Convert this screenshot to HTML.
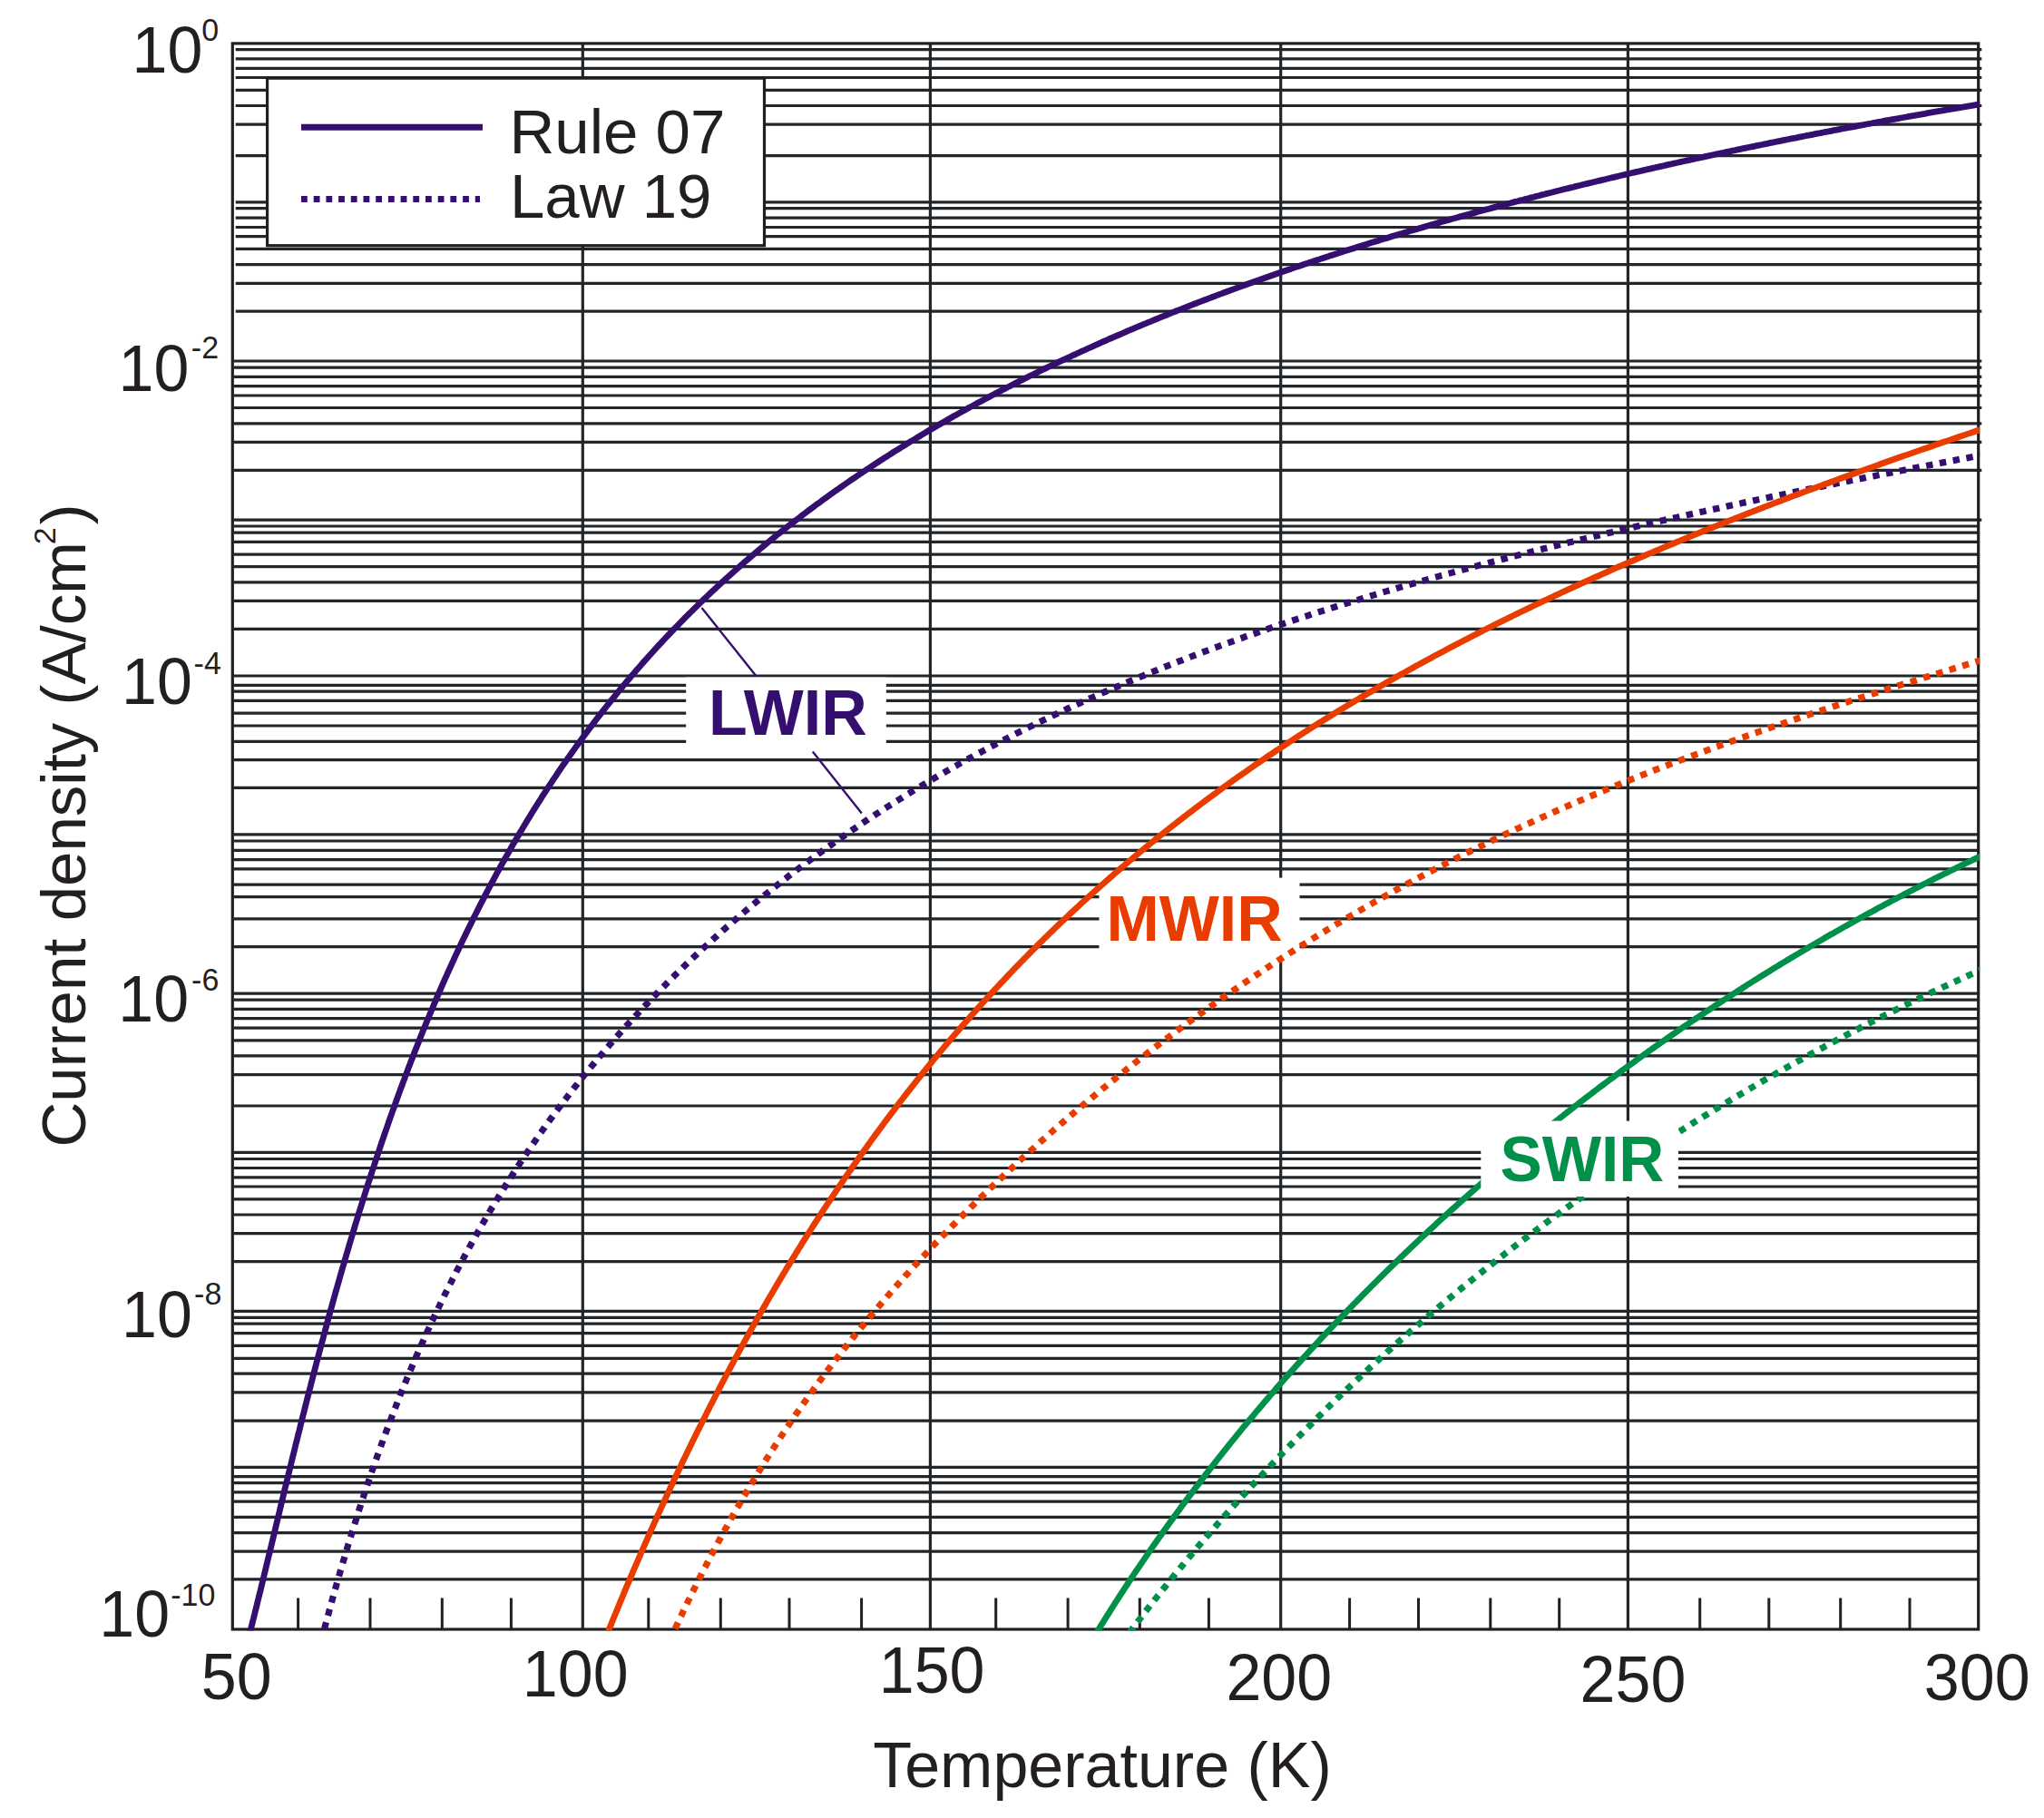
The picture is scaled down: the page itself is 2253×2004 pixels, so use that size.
<!DOCTYPE html>
<html><head><meta charset="utf-8"><title>Current density vs Temperature</title>
<style>html,body{margin:0;padding:0;background:#fff;}svg{display:block;}text{font-family:"Liberation Sans",Arial,sans-serif;}</style></head><body>
<svg width="2253" height="2004" viewBox="0 0 2253 2004">
<rect width="2253" height="2004" fill="#fff"/>
<defs><clipPath id="plot"><rect x="255.3" y="46.9" width="1926.9" height="1750.6"/></clipPath></defs>
<path d="M259.7 54.6H2184.3M259.7 64.9H2184.3M259.7 75.4H2184.3M259.7 85.5H2184.3M259.7 99.3H2184.3M259.7 116.5H2184.3M259.7 137.1H2184.3M259.7 171.6H2184.3M259.7 222.8H2184.3M259.7 229.6H2184.3M259.7 240.1H2184.3M259.7 250.5H2184.3M259.7 260.7H2184.3M259.7 274.4H2184.3M259.7 291.6H2184.3M259.7 312.4H2184.3M259.7 343.2H2184.3M257.6 398.0H2184.3M257.6 405.1H2184.3M257.6 415.3H2184.3M257.6 425.6H2184.3M257.6 436.0H2184.3M257.6 449.5H2184.3M257.6 466.8H2184.3M257.6 487.4H2184.3M257.6 518.4H2184.3M257.6 573.2H2184.3M257.6 580.0H2180.7M257.6 587.1H2180.7M257.6 597.3H2180.7M257.6 611.2H2180.7M257.6 624.7H2180.7M257.6 641.9H2180.7M257.6 662.3H2180.7M257.6 693.4H2180.7M257.6 745.0H2180.7M257.6 755.4H2180.7M257.6 762.2H2180.7M257.6 772.4H2180.7M257.6 786.1H2180.7M257.6 800.0H2180.7M257.6 817.3H2180.7M257.6 837.7H2180.7M257.6 868.4H2180.7M257.6 919.9H2180.7M257.6 927.0H2180.7M257.6 937.4H2180.7M257.6 947.6H2180.7M257.6 957.9H2180.7M257.6 975.2H2180.7M257.6 988.7H2180.7M257.6 1012.8H2180.7M257.6 1043.7H2180.7M257.6 1095.1H2180.7M257.6 1102.2H2180.7M257.6 1112.3H2180.7M257.6 1122.7H2180.7M257.6 1133.1H2180.7M257.6 1146.8H2180.7M257.6 1163.9H2180.7M257.6 1184.7H2180.7M257.6 1219.0H2180.7M257.6 1270.4H2180.7M257.6 1277.5H2180.7M257.6 1287.5H2180.7M257.6 1297.8H2180.7M257.6 1308.0H2180.7M257.6 1321.8H2180.7M257.6 1339.0H2180.7M257.6 1359.6H2180.7M257.6 1390.6H2180.7M257.6 1445.4H2180.7M257.6 1452.3H2180.7M257.6 1459.1H2180.7M257.6 1469.7H2180.7M257.6 1483.4H2180.7M257.6 1497.4H2180.7M257.6 1514.2H2180.7M257.6 1534.9H2180.7M257.6 1566.2H2180.7M257.6 1617.4H2180.7M257.6 1627.6H2180.7M257.6 1634.7H2180.7M257.6 1644.9H2180.7M257.6 1655.1H2180.7M257.6 1672.3H2180.7M257.6 1689.6H2180.7M257.6 1710.1H2180.7M257.6 1740.9H2180.7" stroke="#222629" stroke-width="3.2" fill="none"/>
<path d="M642.3 47.9V1795.9M1025.4 47.9V1795.9M1411.7 47.9V1795.9M1794.4 47.9V1795.9" stroke="#222629" stroke-width="3.2" fill="none"/>
<path d="M328.6 1761.5V1795.9M408.0 1761.5V1795.9M487.3 1761.5V1795.9M563.4 1761.5V1795.9M714.8 1761.5V1795.9M794.3 1761.5V1795.9M870.0 1761.5V1795.9M949.6 1761.5V1795.9M1097.7 1761.5V1795.9M1177.1 1761.5V1795.9M1256.3 1761.5V1795.9M1332.4 1761.5V1795.9M1487.6 1761.5V1795.9M1563.5 1761.5V1795.9M1642.8 1761.5V1795.9M1718.7 1761.5V1795.9M1873.7 1761.5V1795.9M1949.8 1761.5V1795.9M2028.7 1761.5V1795.9M2105.0 1761.5V1795.9" stroke="#231F20" stroke-width="3" fill="none"/>
<rect x="256.3" y="47.9" width="1924.4" height="1748.1" fill="none" stroke="#231F20" stroke-width="3.2"/>
<rect x="294.6" y="86.2" width="547.9" height="184.5" fill="#fff" stroke="#231F20" stroke-width="3.2"/>
<path d="M332 140.3H532" stroke="#350F70" stroke-width="7"/>
<path d="M332 219.6H529" stroke="#350F70" stroke-width="7" stroke-dasharray="6.8 6.9"/>
<rect x="756.2" y="746.6" width="220.6" height="81.6" fill="#fff"/>
<rect x="1211.5" y="967.6" width="221" height="86.8" fill="#fff"/>
<g clip-path="url(#plot)" fill="none" stroke-linejoin="round">
<path d="M262.6 1848.2 L263.4 1845.3 L264.2 1842.4 L265.0 1839.5 L265.8 1836.6 L266.6 1833.7 L267.4 1830.8 L268.1 1827.9 L268.9 1825.0 L269.7 1822.1 L270.4 1819.2 L271.2 1816.3 L272.0 1813.4 L272.7 1810.5 L273.5 1807.6 L274.2 1804.7 L274.9 1801.8 L275.7 1798.9 L276.4 1796.0 L277.2 1793.0 L277.9 1790.1 L278.6 1787.2 L279.4 1784.3 L280.1 1781.4 L280.8 1778.5 L281.5 1775.6 L282.3 1772.7 L283.0 1769.8 L283.7 1766.8 L284.4 1763.9 L285.1 1761.0 L285.8 1758.1 L286.6 1755.2 L287.3 1752.3 L288.0 1749.4 L288.7 1746.4 L289.4 1743.5 L290.1 1740.6 L290.8 1737.7 L291.5 1734.8 L292.2 1731.9 L292.9 1728.9 L293.6 1726.0 L294.3 1723.1 L295.0 1720.2 L295.7 1717.3 L296.4 1714.4 L297.2 1711.4 L297.9 1708.5 L298.6 1705.6 L299.3 1702.7 L300.0 1699.8 L300.7 1696.9 L301.4 1693.9 L302.1 1691.0 L302.8 1688.1 L303.5 1685.2 L304.2 1682.3 L304.9 1679.3 L305.6 1676.4 L306.3 1673.5 L307.0 1670.6 L307.7 1667.7 L308.4 1664.8 L309.1 1661.8 L309.8 1658.9 L310.5 1656.0 L311.2 1653.1 L311.9 1650.2 L312.6 1647.3 L313.3 1644.3 L314.0 1641.4 L314.7 1638.5 L315.4 1635.6 L316.1 1632.7 L316.9 1629.8 L317.6 1626.8 L318.3 1623.9 L319.0 1621.0 L319.7 1618.1 L320.4 1615.2 L321.1 1612.3 L321.8 1609.4 L322.5 1606.4 L323.3 1603.5 L324.0 1600.6 L324.7 1597.7 L325.4 1594.8 L326.1 1591.9 L326.9 1589.0 L327.6 1586.0 L328.3 1583.1 L329.0 1580.2 L329.8 1577.3 L330.5 1574.4 L331.2 1571.5 L331.9 1568.6 L332.7 1565.7 L333.4 1562.8 L334.1 1559.8 L334.9 1556.9 L335.6 1554.0 L336.3 1551.1 L337.1 1548.2 L337.8 1545.3 L338.5 1542.4 L339.3 1539.5 L340.0 1536.6 L340.8 1533.7 L341.5 1530.8 L342.3 1527.8 L343.0 1524.9 L343.8 1522.0 L344.5 1519.1 L345.3 1516.2 L346.0 1513.3 L346.8 1510.4 L347.5 1507.5 L348.3 1504.6 L349.0 1501.7 L349.8 1498.8 L350.6 1495.9 L351.3 1493.0 L352.1 1490.1 L352.9 1487.2 L353.6 1484.3 L354.4 1481.4 L355.2 1478.5 L356.0 1475.6 L356.7 1472.7 L357.5 1469.8 L358.3 1466.9 L359.1 1464.0 L359.9 1461.1 L360.6 1458.2 L361.4 1455.3 L362.2 1452.4 L363.0 1449.5 L363.8 1446.6 L364.6 1443.7 L365.4 1440.9 L366.2 1438.0 L367.0 1435.1 L367.8 1432.2 L368.6 1429.3 L369.4 1426.4 L370.2 1423.5 L371.1 1420.6 L371.9 1417.7 L372.7 1414.8 L373.5 1412.0 L374.3 1409.1 L375.1 1406.2 L376.0 1403.3 L376.8 1400.4 L377.6 1397.5 L378.5 1394.7 L379.3 1391.8 L380.1 1388.9 L381.0 1386.0 L381.8 1383.1 L382.7 1380.2 L383.5 1377.4 L384.4 1374.5 L385.2 1371.6 L386.1 1368.7 L386.9 1365.9 L387.8 1363.0 L388.6 1360.1 L389.5 1357.2 L390.4 1354.4 L391.2 1351.5 L392.1 1348.6 L393.0 1345.7 L393.9 1342.9 L394.7 1340.0 L395.6 1337.1 L396.5 1334.3 L397.4 1331.4 L398.3 1328.5 L399.2 1325.7 L400.1 1322.8 L401.0 1320.0 L401.9 1317.1 L402.8 1314.2 L403.7 1311.4 L404.6 1308.5 L405.5 1305.6 L406.4 1302.8 L407.4 1299.9 L408.3 1297.1 L409.2 1294.2 L410.1 1291.4 L411.1 1288.5 L412.0 1285.7 L412.9 1282.8 L413.9 1280.0 L414.8 1277.1 L415.8 1274.3 L416.7 1271.4 L417.7 1268.6 L418.6 1265.7 L419.6 1262.9 L420.5 1260.0 L421.5 1257.2 L422.5 1254.4 L423.4 1251.5 L424.4 1248.7 L425.4 1245.9 L426.4 1243.0 L427.4 1240.2 L428.3 1237.3 L429.3 1234.5 L430.3 1231.7 L431.3 1228.9 L432.3 1226.0 L433.3 1223.2 L434.4 1220.4 L435.4 1217.5 L436.4 1214.7 L437.4 1211.9 L438.4 1209.1 L439.4 1206.3 L440.5 1203.4 L441.5 1200.6 L442.6 1197.8 L443.6 1195.0 L444.6 1192.2 L445.7 1189.4 L446.7 1186.6 L447.8 1183.8 L448.9 1180.9 L449.9 1178.1 L451.0 1175.3 L452.1 1172.5 L453.1 1169.7 L454.2 1166.9 L455.3 1164.1 L456.4 1161.3 L457.5 1158.5 L458.6 1155.7 L459.7 1153.0 L460.8 1150.2 L461.9 1147.4 L463.0 1144.6 L464.1 1141.8 L465.2 1139.0 L466.3 1136.2 L467.5 1133.5 L468.6 1130.7 L469.7 1127.9 L470.9 1125.1 L472.0 1122.3 L473.2 1119.6 L474.3 1116.8 L475.5 1114.0 L476.7 1111.3 L477.8 1108.5 L479.0 1105.7 L480.2 1103.0 L481.3 1100.2 L482.5 1097.5 L483.7 1094.7 L484.9 1092.0 L486.1 1089.2 L487.3 1086.5 L488.5 1083.7 L489.7 1081.0 L490.9 1078.2 L492.2 1075.5 L493.4 1072.7 L494.6 1070.0 L495.8 1067.3 L497.1 1064.5 L498.3 1061.8 L499.6 1059.1 L500.8 1056.3 L502.1 1053.6 L503.3 1050.9 L504.6 1048.2 L505.9 1045.5 L507.2 1042.7 L508.4 1040.0 L509.7 1037.3 L511.0 1034.6 L512.3 1031.9 L513.6 1029.2 L514.9 1026.5 L516.2 1023.8 L517.6 1021.1 L518.9 1018.4 L520.2 1015.7 L521.5 1013.0 L522.9 1010.3 L524.2 1007.7 L525.6 1005.0 L526.9 1002.3 L528.3 999.6 L529.6 996.9 L531.0 994.3 L532.4 991.6 L533.8 988.9 L535.1 986.3 L536.5 983.6 L537.9 981.0 L539.3 978.3 L540.7 975.7 L542.1 973.0 L543.6 970.4 L545.0 967.7 L546.4 965.1 L547.8 962.4 L549.3 959.8 L550.7 957.2 L552.2 954.5 L553.6 951.9 L555.1 949.3 L556.5 946.7 L558.0 944.1 L559.5 941.5 L561.0 938.8 L562.5 936.2 L563.9 933.6 L565.4 931.0 L567.0 928.4 L568.5 925.8 L570.0 923.3 L571.5 920.7 L573.0 918.1 L574.6 915.5 L576.1 912.9 L577.6 910.4 L579.2 907.8 L580.7 905.2 L582.3 902.7 L583.9 900.1 L585.4 897.5 L587.0 895.0 L588.6 892.4 L590.2 889.9 L591.8 887.4 L593.4 884.8 L595.0 882.3 L596.6 879.7 L598.2 877.2 L599.9 874.7 L601.5 872.2 L603.1 869.7 L604.8 867.2 L606.4 864.6 L608.1 862.1 L609.7 859.6 L611.4 857.1 L613.1 854.7 L614.7 852.2 L616.4 849.7 L618.1 847.2 L619.8 844.7 L621.5 842.3 L623.2 839.8 L624.9 837.3 L626.7 834.9 L628.4 832.4 L630.1 830.0 L631.9 827.5 L633.6 825.1 L635.4 822.6 L637.1 820.2 L638.9 817.8 L640.6 815.4 L642.4 812.9 L644.2 810.5 L646.0 808.1 L647.8 805.7 L649.6 803.3 L651.4 800.9 L653.2 798.5 L655.0 796.1 L656.8 793.7 L658.6 791.3 L660.5 789.0 L662.3 786.6 L664.2 784.2 L666.0 781.9 L667.9 779.5 L669.7 777.2 L671.6 774.8 L673.5 772.5 L675.4 770.1 L677.3 767.8 L679.1 765.5 L681.0 763.2 L682.9 760.8 L684.9 758.5 L686.8 756.2 L688.7 753.9 L690.6 751.6 L692.6 749.3 L694.5 747.0 L696.4 744.7 L698.4 742.5 L700.4 740.2 L702.3 737.9 L704.3 735.7 L706.3 733.4 L708.2 731.1 L710.2 728.9 L712.2 726.7 L714.2 724.4 L716.2 722.2 L718.2 720.0 L720.3 717.7 L722.3 715.5 L724.3 713.3 L726.3 711.1 L728.4 708.9 L730.4 706.7 L732.5 704.5 L734.5 702.3 L736.6 700.1 L738.7 698.0 L740.7 695.8 L742.8 693.6 L744.9 691.5 L747.0 689.3 L749.1 687.2 L751.2 685.0 L753.3 682.9 L755.4 680.7 L757.5 678.6 L759.6 676.5 L761.8 674.4 L763.9 672.3 L766.0 670.2 L768.2 668.1 L770.3 666.0 L772.5 663.9 L774.6 661.8 L776.8 659.7 L779.0 657.6 L781.1 655.6 L783.3 653.5 L785.5 651.4 L787.7 649.4 L789.9 647.4 L792.1 645.3 L794.3 643.3 L796.5 641.2 L798.7 639.2 L800.9 637.2 L803.2 635.2 L805.4 633.2 L807.6 631.2 L809.9 629.2 L812.1 627.2 L814.4 625.2 L816.6 623.2 L818.9 621.3 L821.1 619.3 L823.4 617.3 L825.7 615.4 L828.0 613.4 L830.3 611.5 L832.5 609.5 L834.8 607.6 L837.1 605.7 L839.4 603.7 L841.7 601.8 L844.1 599.9 L846.4 598.0 L848.7 596.1 L851.0 594.2 L853.3 592.3 L855.7 590.4 L858.0 588.5 L860.4 586.7 L862.7 584.8 L865.1 582.9 L867.4 581.1 L869.8 579.2 L872.1 577.4 L874.5 575.5 L876.9 573.7 L879.3 571.9 L881.7 570.1 L884.0 568.2 L886.4 566.4 L888.8 564.6 L891.2 562.8 L893.6 561.0 L896.0 559.2 L898.4 557.4 L900.9 555.6 L903.3 553.9 L905.7 552.1 L908.1 550.3 L910.6 548.6 L913.0 546.8 L915.4 545.1 L917.9 543.3 L920.3 541.6 L922.8 539.9 L925.2 538.1 L927.7 536.4 L930.1 534.7 L932.6 533.0 L935.1 531.3 L937.5 529.6 L940.0 527.9 L942.5 526.2 L945.0 524.5 L947.5 522.8 L950.0 521.1 L952.5 519.5 L955.0 517.8 L957.5 516.2 L960.0 514.5 L962.5 512.9 L965.0 511.2 L967.5 509.6 L970.0 507.9 L972.5 506.3 L975.0 504.7 L977.6 503.1 L980.1 501.5 L982.6 499.9 L985.2 498.2 L987.7 496.7 L990.3 495.1 L992.8 493.5 L995.4 491.9 L997.9 490.3 L1000.5 488.7 L1003.0 487.2 L1005.6 485.6 L1008.2 484.1 L1010.7 482.5 L1013.3 481.0 L1015.9 479.4 L1018.4 477.9 L1021.0 476.3 L1023.6 474.8 L1026.2 473.3 L1028.8 471.8 L1031.4 470.3 L1034.0 468.7 L1036.6 467.2 L1039.2 465.7 L1041.8 464.3 L1044.4 462.8 L1047.0 461.3 L1049.6 459.8 L1052.2 458.3 L1054.8 456.9 L1057.4 455.4 L1060.1 453.9 L1062.7 452.5 L1065.3 451.0 L1067.9 449.6 L1070.6 448.1 L1073.2 446.7 L1075.8 445.3 L1078.5 443.8 L1081.1 442.4 L1083.8 441.0 L1086.4 439.6 L1089.1 438.2 L1091.7 436.7 L1094.4 435.3 L1097.0 433.9 L1099.7 432.6 L1102.3 431.2 L1105.0 429.8 L1107.7 428.4 L1110.3 427.0 L1113.0 425.7 L1115.7 424.3 L1118.3 422.9 L1121.0 421.6 L1123.7 420.2 L1126.4 418.9 L1129.1 417.5 L1131.7 416.2 L1134.4 414.8 L1137.1 413.5 L1139.8 412.2 L1142.5 410.9 L1145.2 409.5 L1147.9 408.2 L1150.6 406.9 L1153.3 405.6 L1156.0 404.3 L1158.7 403.0 L1161.4 401.7 L1164.1 400.4 L1166.8 399.1 L1169.5 397.9 L1172.3 396.6 L1175.0 395.3 L1177.7 394.0 L1180.4 392.8 L1183.1 391.5 L1185.9 390.3 L1188.6 389.0 L1191.3 387.7 L1194.0 386.5 L1196.8 385.3 L1199.5 384.0 L1202.2 382.8 L1205.0 381.6 L1207.7 380.3 L1210.5 379.1 L1213.2 377.9 L1215.9 376.7 L1218.7 375.5 L1221.4 374.2 L1224.2 373.0 L1226.9 371.8 L1229.7 370.6 L1232.4 369.5 L1235.2 368.3 L1238.0 367.1 L1240.7 365.9 L1243.5 364.7 L1246.2 363.5 L1249.0 362.4 L1251.8 361.2 L1254.5 360.0 L1257.3 358.9 L1260.1 357.7 L1262.8 356.6 L1265.6 355.4 L1268.4 354.3 L1271.2 353.1 L1273.9 352.0 L1276.7 350.9 L1279.5 349.7 L1282.3 348.6 L1285.1 347.5 L1287.8 346.4 L1290.6 345.2 L1293.4 344.1 L1296.2 343.0 L1299.0 341.9 L1301.8 340.8 L1304.6 339.7 L1307.4 338.6 L1310.2 337.5 L1313.0 336.4 L1315.7 335.3 L1318.5 334.3 L1321.3 333.2 L1324.1 332.1 L1326.9 331.0 L1329.8 330.0 L1332.6 328.9 L1335.4 327.8 L1338.2 326.8 L1341.0 325.7 L1343.8 324.6 L1346.6 323.6 L1349.4 322.5 L1352.2 321.5 L1355.0 320.5 L1357.9 319.4 L1360.7 318.4 L1363.5 317.3 L1366.3 316.3 L1369.1 315.3 L1371.9 314.3 L1374.8 313.2 L1377.6 312.2 L1380.4 311.2 L1383.2 310.2 L1386.1 309.2 L1388.9 308.2 L1391.7 307.2 L1394.5 306.2 L1397.4 305.2 L1400.2 304.2 L1403.0 303.2 L1405.9 302.2 L1408.7 301.2 L1411.5 300.3 L1414.4 299.3 L1417.2 298.3 L1420.1 297.3 L1422.9 296.4 L1425.7 295.4 L1428.6 294.4 L1431.4 293.5 L1434.3 292.5 L1437.1 291.5 L1440.0 290.6 L1442.8 289.6 L1445.7 288.7 L1448.5 287.7 L1451.3 286.8 L1454.2 285.9 L1457.0 284.9 L1459.9 284.0 L1462.8 283.1 L1465.6 282.1 L1468.5 281.2 L1471.3 280.3 L1474.2 279.4 L1477.0 278.4 L1479.9 277.5 L1482.7 276.6 L1485.6 275.7 L1488.5 274.8 L1491.3 273.9 L1494.2 273.0 L1497.0 272.1 L1499.9 271.2 L1502.8 270.3 L1505.6 269.4 L1508.5 268.5 L1511.4 267.6 L1514.2 266.7 L1517.1 265.9 L1520.0 265.0 L1522.8 264.1 L1525.7 263.2 L1528.6 262.4 L1531.5 261.5 L1534.3 260.6 L1537.2 259.7 L1540.1 258.9 L1543.0 258.0 L1545.8 257.2 L1548.7 256.3 L1551.6 255.5 L1554.5 254.6 L1557.3 253.8 L1560.2 252.9 L1563.1 252.1 L1566.0 251.2 L1568.9 250.4 L1571.7 249.6 L1574.6 248.7 L1577.5 247.9 L1580.4 247.1 L1583.3 246.2 L1586.2 245.4 L1589.0 244.6 L1591.9 243.8 L1594.8 242.9 L1597.7 242.1 L1600.6 241.3 L1603.5 240.5 L1606.4 239.7 L1609.3 238.9 L1612.2 238.1 L1615.0 237.3 L1617.9 236.5 L1620.8 235.7 L1623.7 234.9 L1626.6 234.1 L1629.5 233.3 L1632.4 232.5 L1635.3 231.7 L1638.2 230.9 L1641.1 230.2 L1644.0 229.4 L1646.9 228.6 L1649.8 227.8 L1652.7 227.0 L1655.6 226.3 L1658.5 225.5 L1661.4 224.7 L1664.3 224.0 L1667.2 223.2 L1670.1 222.4 L1673.0 221.7 L1675.9 220.9 L1678.8 220.2 L1681.7 219.4 L1684.6 218.7 L1687.5 217.9 L1690.4 217.2 L1693.3 216.4 L1696.2 215.7 L1699.1 214.9 L1702.1 214.2 L1705.0 213.4 L1707.9 212.7 L1710.8 212.0 L1713.7 211.2 L1716.6 210.5 L1719.5 209.8 L1722.4 209.0 L1725.3 208.3 L1728.3 207.6 L1731.2 206.9 L1734.1 206.2 L1737.0 205.4 L1739.9 204.7 L1742.8 204.0 L1745.7 203.3 L1748.7 202.6 L1751.6 201.9 L1754.5 201.2 L1757.4 200.5 L1760.3 199.8 L1763.2 199.1 L1766.2 198.4 L1769.1 197.7 L1772.0 197.0 L1774.9 196.3 L1777.8 195.6 L1780.8 194.9 L1783.7 194.2 L1786.6 193.5 L1789.5 192.8 L1792.4 192.2 L1795.4 191.5 L1798.3 190.8 L1801.2 190.1 L1804.1 189.4 L1807.1 188.8 L1810.0 188.1 L1812.9 187.4 L1815.8 186.7 L1818.8 186.1 L1821.7 185.4 L1824.6 184.7 L1827.5 184.1 L1830.5 183.4 L1833.4 182.8 L1836.3 182.1 L1839.2 181.4 L1842.2 180.8 L1845.1 180.1 L1848.0 179.5 L1851.0 178.8 L1853.9 178.2 L1856.8 177.5 L1859.7 176.9 L1862.7 176.3 L1865.6 175.6 L1868.5 175.0 L1871.5 174.3 L1874.4 173.7 L1877.3 173.1 L1880.3 172.4 L1883.2 171.8 L1886.1 171.2 L1889.1 170.5 L1892.0 169.9 L1894.9 169.3 L1897.9 168.7 L1900.8 168.0 L1903.7 167.4 L1906.7 166.8 L1909.6 166.2 L1912.6 165.6 L1915.5 164.9 L1918.4 164.3 L1921.4 163.7 L1924.3 163.1 L1927.2 162.5 L1930.2 161.9 L1933.1 161.3 L1936.1 160.7 L1939.0 160.1 L1941.9 159.5 L1944.9 158.9 L1947.8 158.3 L1950.8 157.7 L1953.7 157.1 L1956.6 156.5 L1959.6 155.9 L1962.5 155.3 L1965.5 154.7 L1968.4 154.1 L1971.4 153.5 L1974.3 152.9 L1977.2 152.3 L1980.2 151.8 L1983.1 151.2 L1986.1 150.6 L1989.0 150.0 L1992.0 149.4 L1994.9 148.9 L1997.8 148.3 L2000.8 147.7 L2003.7 147.1 L2006.7 146.6 L2009.6 146.0 L2012.6 145.4 L2015.5 144.9 L2018.5 144.3 L2021.4 143.7 L2024.4 143.2 L2027.3 142.6 L2030.3 142.0 L2033.2 141.5 L2036.2 140.9 L2039.1 140.4 L2042.1 139.8 L2045.0 139.3 L2048.0 138.7 L2050.9 138.1 L2053.9 137.6 L2056.8 137.0 L2059.8 136.5 L2062.7 136.0 L2065.7 135.4 L2068.6 134.9 L2071.6 134.3 L2074.5 133.8 L2077.5 133.2 L2080.4 132.7 L2083.4 132.2 L2086.3 131.6 L2089.3 131.1 L2092.2 130.6 L2095.2 130.0 L2098.1 129.5 L2101.1 129.0 L2104.0 128.4 L2107.0 127.9 L2109.9 127.4 L2112.9 126.8 L2115.9 126.3 L2118.8 125.8 L2121.8 125.3 L2124.7 124.7 L2127.7 124.2 L2130.6 123.7 L2133.6 123.2 L2136.5 122.7 L2139.5 122.2 L2142.5 121.6 L2145.4 121.1 L2148.4 120.6 L2151.3 120.1 L2154.3 119.6 L2157.2 119.1 L2160.2 118.6 L2163.2 118.1 L2166.1 117.6 L2169.1 117.1 L2172.0 116.6 L2175.0 116.1 L2177.9 115.6 L2180.9 115.1 L2183.9 114.6 L2186.8 114.1 L2189.8 113.6 L2192.7 113.1 L2195.7 112.6" stroke="#350F70" stroke-width="6.8"/>
<path d="M342.7 1853.5 L343.4 1850.6 L344.1 1847.7 L344.9 1844.8 L345.6 1841.9 L346.3 1839.0 L347.1 1836.0 L347.8 1833.1 L348.5 1830.2 L349.3 1827.3 L350.0 1824.4 L350.8 1821.5 L351.5 1818.6 L352.3 1815.7 L353.0 1812.8 L353.8 1809.9 L354.5 1807.0 L355.3 1804.1 L356.0 1801.2 L356.8 1798.3 L357.6 1795.4 L358.3 1792.5 L359.1 1789.6 L359.9 1786.7 L360.7 1783.8 L361.5 1780.9 L362.3 1778.0 L363.0 1775.1 L363.8 1772.2 L364.6 1769.3 L365.4 1766.4 L366.2 1763.5 L367.0 1760.6 L367.8 1757.7 L368.7 1754.8 L369.5 1751.9 L370.3 1749.0 L371.1 1746.1 L371.9 1743.3 L372.8 1740.4 L373.6 1737.5 L374.4 1734.6 L375.2 1731.7 L376.1 1728.8 L376.9 1725.9 L377.8 1723.1 L378.6 1720.2 L379.5 1717.3 L380.3 1714.4 L381.2 1711.6 L382.1 1708.7 L382.9 1705.8 L383.8 1702.9 L384.7 1700.1 L385.5 1697.2 L386.4 1694.3 L387.3 1691.4 L388.2 1688.6 L389.1 1685.7 L390.0 1682.8 L390.9 1680.0 L391.8 1677.1 L392.7 1674.3 L393.6 1671.4 L394.5 1668.5 L395.4 1665.7 L396.3 1662.8 L397.3 1660.0 L398.2 1657.1 L399.1 1654.2 L400.1 1651.4 L401.0 1648.5 L401.9 1645.7 L402.9 1642.8 L403.8 1640.0 L404.8 1637.1 L405.7 1634.3 L406.7 1631.5 L407.7 1628.6 L408.6 1625.8 L409.6 1622.9 L410.6 1620.1 L411.6 1617.3 L412.6 1614.4 L413.6 1611.6 L414.6 1608.8 L415.6 1605.9 L416.6 1603.1 L417.6 1600.3 L418.6 1597.4 L419.6 1594.6 L420.6 1591.8 L421.7 1589.0 L422.7 1586.2 L423.7 1583.3 L424.8 1580.5 L425.8 1577.7 L426.9 1574.9 L427.9 1572.1 L429.0 1569.3 L430.0 1566.5 L431.1 1563.7 L432.2 1560.9 L433.2 1558.1 L434.3 1555.3 L435.4 1552.5 L436.5 1549.7 L437.6 1546.9 L438.7 1544.1 L439.8 1541.3 L440.9 1538.5 L442.0 1535.7 L443.1 1532.9 L444.3 1530.1 L445.4 1527.3 L446.5 1524.6 L447.7 1521.8 L448.8 1519.0 L450.0 1516.2 L451.1 1513.5 L452.3 1510.7 L453.4 1507.9 L454.6 1505.2 L455.8 1502.4 L457.0 1499.6 L458.2 1496.9 L459.3 1494.1 L460.5 1491.4 L461.7 1488.6 L462.9 1485.9 L464.2 1483.1 L465.4 1480.4 L466.6 1477.6 L467.8 1474.9 L469.1 1472.2 L470.3 1469.4 L471.5 1466.7 L472.8 1464.0 L474.0 1461.2 L475.3 1458.5 L476.6 1455.8 L477.8 1453.1 L479.1 1450.3 L480.4 1447.6 L481.7 1444.9 L483.0 1442.2 L484.3 1439.5 L485.6 1436.8 L486.9 1434.1 L488.2 1431.4 L489.5 1428.7 L490.8 1426.0 L492.2 1423.3 L493.5 1420.6 L494.8 1417.9 L496.2 1415.3 L497.6 1412.6 L498.9 1409.9 L500.3 1407.2 L501.7 1404.6 L503.0 1401.9 L504.4 1399.2 L505.8 1396.6 L507.2 1393.9 L508.6 1391.2 L510.0 1388.6 L511.4 1385.9 L512.8 1383.3 L514.3 1380.7 L515.7 1378.0 L517.1 1375.4 L518.6 1372.7 L520.0 1370.1 L521.5 1367.5 L522.9 1364.9 L524.4 1362.2 L525.9 1359.6 L527.3 1357.0 L528.8 1354.4 L530.3 1351.8 L531.8 1349.2 L533.3 1346.6 L534.8 1344.0 L536.3 1341.4 L537.8 1338.8 L539.4 1336.2 L540.9 1333.6 L542.4 1331.1 L544.0 1328.5 L545.5 1325.9 L547.1 1323.3 L548.6 1320.8 L550.2 1318.2 L551.8 1315.7 L553.4 1313.1 L554.9 1310.6 L556.5 1308.0 L558.1 1305.5 L559.7 1302.9 L561.3 1300.4 L563.0 1297.9 L564.6 1295.3 L566.2 1292.8 L567.8 1290.3 L569.5 1287.8 L571.1 1285.3 L572.8 1282.8 L574.4 1280.3 L576.1 1277.8 L577.7 1275.3 L579.4 1272.8 L581.1 1270.3 L582.8 1267.8 L584.5 1265.3 L586.2 1262.8 L587.9 1260.4 L589.6 1257.9 L591.3 1255.4 L593.0 1253.0 L594.7 1250.5 L596.5 1248.1 L598.2 1245.6 L600.0 1243.2 L601.7 1240.7 L603.5 1238.3 L605.2 1235.9 L607.0 1233.4 L608.8 1231.0 L610.6 1228.6 L612.3 1226.2 L614.1 1223.8 L615.9 1221.4 L617.7 1219.0 L619.5 1216.6 L621.3 1214.2 L623.2 1211.8 L625.0 1209.4 L626.8 1207.0 L628.7 1204.6 L630.5 1202.3 L632.3 1199.9 L634.2 1197.5 L636.1 1195.2 L637.9 1192.8 L639.8 1190.5 L641.7 1188.1 L643.5 1185.8 L645.4 1183.5 L647.3 1181.1 L649.2 1178.8 L651.1 1176.5 L653.0 1174.2 L655.0 1171.9 L656.9 1169.5 L658.8 1167.2 L660.7 1164.9 L662.7 1162.6 L664.6 1160.4 L666.5 1158.1 L668.5 1155.8 L670.5 1153.5 L672.4 1151.2 L674.4 1149.0 L676.4 1146.7 L678.3 1144.4 L680.3 1142.2 L682.3 1139.9 L684.3 1137.7 L686.3 1135.5 L688.3 1133.2 L690.3 1131.0 L692.3 1128.8 L694.3 1126.5 L696.4 1124.3 L698.4 1122.1 L700.4 1119.9 L702.5 1117.7 L704.5 1115.5 L706.6 1113.3 L708.6 1111.1 L710.7 1108.9 L712.8 1106.8 L714.8 1104.6 L716.9 1102.4 L719.0 1100.3 L721.1 1098.1 L723.2 1095.9 L725.2 1093.8 L727.3 1091.6 L729.5 1089.5 L731.6 1087.4 L733.7 1085.2 L735.8 1083.1 L737.9 1081.0 L740.0 1078.9 L742.2 1076.8 L744.3 1074.6 L746.5 1072.5 L748.6 1070.4 L750.8 1068.4 L752.9 1066.3 L755.1 1064.2 L757.2 1062.1 L759.4 1060.0 L761.6 1058.0 L763.8 1055.9 L766.0 1053.8 L768.1 1051.8 L770.3 1049.7 L772.5 1047.7 L774.7 1045.6 L776.9 1043.6 L779.2 1041.6 L781.4 1039.6 L783.6 1037.5 L785.8 1035.5 L788.1 1033.5 L790.3 1031.5 L792.5 1029.5 L794.8 1027.5 L797.0 1025.5 L799.3 1023.5 L801.5 1021.5 L803.8 1019.6 L806.0 1017.6 L808.3 1015.6 L810.6 1013.7 L812.9 1011.7 L815.1 1009.8 L817.4 1007.8 L819.7 1005.9 L822.0 1003.9 L824.3 1002.0 L826.6 1000.1 L828.9 998.2 L831.2 996.2 L833.5 994.3 L835.9 992.4 L838.2 990.5 L840.5 988.6 L842.8 986.7 L845.2 984.8 L847.5 983.0 L849.9 981.1 L852.2 979.2 L854.6 977.3 L856.9 975.5 L859.3 973.6 L861.6 971.8 L864.0 969.9 L866.4 968.1 L868.7 966.2 L871.1 964.4 L873.5 962.6 L875.9 960.7 L878.3 958.9 L880.7 957.1 L883.1 955.3 L885.5 953.5 L887.9 951.7 L890.3 949.9 L892.7 948.1 L895.1 946.3 L897.5 944.6 L899.9 942.8 L902.4 941.0 L904.8 939.3 L907.2 937.5 L909.7 935.7 L912.1 934.0 L914.6 932.3 L917.0 930.5 L919.5 928.8 L921.9 927.1 L924.4 925.3 L926.8 923.6 L929.3 921.9 L931.8 920.2 L934.2 918.5 L936.7 916.8 L939.2 915.1 L941.7 913.4 L944.2 911.7 L946.6 910.0 L949.1 908.4 L951.6 906.7 L954.1 905.0 L956.6 903.4 L959.1 901.7 L961.7 900.1 L964.2 898.4 L966.7 896.8 L969.2 895.2 L971.7 893.5 L974.2 891.9 L976.8 890.3 L979.3 888.7 L981.8 887.1 L984.4 885.5 L986.9 883.9 L989.5 882.3 L992.0 880.7 L994.6 879.1 L997.1 877.5 L999.7 875.9 L1002.2 874.4 L1004.8 872.8 L1007.4 871.2 L1009.9 869.7 L1012.5 868.1 L1015.1 866.6 L1017.6 865.0 L1020.2 863.5 L1022.8 862.0 L1025.4 860.4 L1028.0 858.9 L1030.6 857.4 L1033.2 855.9 L1035.8 854.4 L1038.4 852.9 L1041.0 851.4 L1043.6 849.9 L1046.2 848.4 L1048.8 846.9 L1051.4 845.4 L1054.0 844.0 L1056.6 842.5 L1059.2 841.0 L1061.9 839.6 L1064.5 838.1 L1067.1 836.7 L1069.8 835.2 L1072.4 833.8 L1075.0 832.3 L1077.7 830.9 L1080.3 829.5 L1082.9 828.1 L1085.6 826.6 L1088.2 825.2 L1090.9 823.8 L1093.5 822.4 L1096.2 821.0 L1098.9 819.6 L1101.5 818.2 L1104.2 816.8 L1106.9 815.5 L1109.5 814.1 L1112.2 812.7 L1114.9 811.3 L1117.5 810.0 L1120.2 808.6 L1122.9 807.3 L1125.6 805.9 L1128.3 804.6 L1131.0 803.2 L1133.6 801.9 L1136.3 800.6 L1139.0 799.2 L1141.7 797.9 L1144.4 796.6 L1147.1 795.3 L1149.8 794.0 L1152.5 792.7 L1155.2 791.4 L1157.9 790.1 L1160.6 788.8 L1163.4 787.5 L1166.1 786.2 L1168.8 784.9 L1171.5 783.7 L1174.2 782.4 L1176.9 781.1 L1179.7 779.9 L1182.4 778.6 L1185.1 777.4 L1187.9 776.1 L1190.6 774.9 L1193.3 773.6 L1196.1 772.4 L1198.8 771.1 L1201.5 769.9 L1204.3 768.7 L1207.0 767.5 L1209.8 766.3 L1212.5 765.0 L1215.3 763.8 L1218.0 762.6 L1220.8 761.4 L1223.5 760.2 L1226.3 759.0 L1229.0 757.9 L1231.8 756.7 L1234.6 755.5 L1237.3 754.3 L1240.1 753.1 L1242.8 752.0 L1245.6 750.8 L1248.4 749.7 L1251.2 748.5 L1253.9 747.3 L1256.7 746.2 L1259.5 745.1 L1262.2 743.9 L1265.0 742.8 L1267.8 741.6 L1270.6 740.5 L1273.4 739.4 L1276.2 738.3 L1278.9 737.1 L1281.7 736.0 L1284.5 734.9 L1287.3 733.8 L1290.1 732.7 L1292.9 731.6 L1295.7 730.5 L1298.5 729.4 L1301.3 728.3 L1304.1 727.3 L1306.9 726.2 L1309.7 725.1 L1312.5 724.0 L1315.3 722.9 L1318.1 721.9 L1320.9 720.8 L1323.7 719.8 L1326.5 718.7 L1329.3 717.6 L1332.2 716.6 L1335.0 715.5 L1337.8 714.5 L1340.6 713.5 L1343.4 712.4 L1346.2 711.4 L1349.1 710.4 L1351.9 709.3 L1354.7 708.3 L1357.5 707.3 L1360.4 706.3 L1363.2 705.3 L1366.0 704.3 L1368.8 703.3 L1371.7 702.2 L1374.5 701.2 L1377.3 700.3 L1380.2 699.3 L1383.0 698.3 L1385.8 697.3 L1388.7 696.3 L1391.5 695.3 L1394.3 694.3 L1397.2 693.4 L1400.0 692.4 L1402.9 691.4 L1405.7 690.5 L1408.5 689.5 L1411.4 688.5 L1414.2 687.6 L1417.1 686.6 L1419.9 685.7 L1422.8 684.7 L1425.6 683.8 L1428.5 682.8 L1431.3 681.9 L1434.2 681.0 L1437.0 680.0 L1439.9 679.1 L1442.8 678.2 L1445.6 677.2 L1448.5 676.3 L1451.3 675.4 L1454.2 674.5 L1457.0 673.6 L1459.9 672.7 L1462.8 671.8 L1465.6 670.8 L1468.5 669.9 L1471.4 669.0 L1474.2 668.1 L1477.1 667.3 L1480.0 666.4 L1482.8 665.5 L1485.7 664.6 L1488.6 663.7 L1491.4 662.8 L1494.3 661.9 L1497.2 661.1 L1500.0 660.2 L1502.9 659.3 L1505.8 658.5 L1508.7 657.6 L1511.5 656.7 L1514.4 655.9 L1517.3 655.0 L1520.2 654.1 L1523.0 653.3 L1525.9 652.4 L1528.8 651.6 L1531.7 650.7 L1534.6 649.9 L1537.5 649.1 L1540.3 648.2 L1543.2 647.4 L1546.1 646.5 L1549.0 645.7 L1551.9 644.9 L1554.8 644.1 L1557.6 643.2 L1560.5 642.4 L1563.4 641.6 L1566.3 640.8 L1569.2 640.0 L1572.1 639.1 L1575.0 638.3 L1577.9 637.5 L1580.8 636.7 L1583.7 635.9 L1586.5 635.1 L1589.4 634.3 L1592.3 633.5 L1595.2 632.7 L1598.1 631.9 L1601.0 631.1 L1603.9 630.3 L1606.8 629.5 L1609.7 628.7 L1612.6 628.0 L1615.5 627.2 L1618.4 626.4 L1621.3 625.6 L1624.2 624.8 L1627.1 624.1 L1630.0 623.3 L1632.9 622.5 L1635.8 621.8 L1638.7 621.0 L1641.6 620.2 L1644.5 619.5 L1647.4 618.7 L1650.3 617.9 L1653.2 617.2 L1656.1 616.4 L1659.0 615.7 L1662.0 614.9 L1664.9 614.2 L1667.8 613.4 L1670.7 612.7 L1673.6 611.9 L1676.5 611.2 L1679.4 610.5 L1682.3 609.7 L1685.2 609.0 L1688.1 608.2 L1691.0 607.5 L1694.0 606.8 L1696.9 606.0 L1699.8 605.3 L1702.7 604.6 L1705.6 603.9 L1708.5 603.1 L1711.4 602.4 L1714.3 601.7 L1717.3 601.0 L1720.2 600.3 L1723.1 599.5 L1726.0 598.8 L1728.9 598.1 L1731.8 597.4 L1734.8 596.7 L1737.7 596.0 L1740.6 595.3 L1743.5 594.6 L1746.4 593.9 L1749.4 593.2 L1752.3 592.5 L1755.2 591.8 L1758.1 591.1 L1761.0 590.4 L1764.0 589.7 L1766.9 589.0 L1769.8 588.3 L1772.7 587.6 L1775.6 586.9 L1778.6 586.2 L1781.5 585.6 L1784.4 584.9 L1787.3 584.2 L1790.3 583.5 L1793.2 582.8 L1796.1 582.1 L1799.0 581.5 L1802.0 580.8 L1804.9 580.1 L1807.8 579.4 L1810.7 578.8 L1813.7 578.1 L1816.6 577.4 L1819.5 576.8 L1822.4 576.1 L1825.4 575.4 L1828.3 574.8 L1831.2 574.1 L1834.2 573.4 L1837.1 572.8 L1840.0 572.1 L1842.9 571.5 L1845.9 570.8 L1848.8 570.2 L1851.7 569.5 L1854.7 568.8 L1857.6 568.2 L1860.5 567.5 L1863.5 566.9 L1866.4 566.2 L1869.3 565.6 L1872.3 565.0 L1875.2 564.3 L1878.1 563.7 L1881.0 563.0 L1884.0 562.4 L1886.9 561.7 L1889.8 561.1 L1892.8 560.5 L1895.7 559.8 L1898.7 559.2 L1901.6 558.6 L1904.5 557.9 L1907.5 557.3 L1910.4 556.7 L1913.3 556.0 L1916.3 555.4 L1919.2 554.8 L1922.1 554.1 L1925.1 553.5 L1928.0 552.9 L1930.9 552.3 L1933.9 551.6 L1936.8 551.0 L1939.8 550.4 L1942.7 549.8 L1945.6 549.2 L1948.6 548.5 L1951.5 547.9 L1954.4 547.3 L1957.4 546.7 L1960.3 546.1 L1963.3 545.5 L1966.2 544.9 L1969.1 544.2 L1972.1 543.6 L1975.0 543.0 L1978.0 542.4 L1980.9 541.8 L1983.8 541.2 L1986.8 540.6 L1989.7 540.0 L1992.7 539.4 L1995.6 538.8 L1998.5 538.2 L2001.5 537.6 L2004.4 537.0 L2007.4 536.4 L2010.3 535.8 L2013.3 535.2 L2016.2 534.6 L2019.1 534.0 L2022.1 533.4 L2025.0 532.8 L2028.0 532.2 L2030.9 531.6 L2033.9 531.0 L2036.8 530.4 L2039.7 529.8 L2042.7 529.2 L2045.6 528.7 L2048.6 528.1 L2051.5 527.5 L2054.5 526.9 L2057.4 526.3 L2060.3 525.7 L2063.3 525.1 L2066.2 524.6 L2069.2 524.0 L2072.1 523.4 L2075.1 522.8 L2078.0 522.2 L2081.0 521.6 L2083.9 521.1 L2086.9 520.5 L2089.8 519.9 L2092.7 519.3 L2095.7 518.8 L2098.6 518.2 L2101.6 517.6 L2104.5 517.0 L2107.5 516.5 L2110.4 515.9 L2113.4 515.3 L2116.3 514.7 L2119.3 514.2 L2122.2 513.6 L2125.2 513.0 L2128.1 512.5 L2131.1 511.9 L2134.0 511.3 L2137.0 510.8 L2139.9 510.2 L2142.9 509.6 L2145.8 509.1 L2148.8 508.5 L2151.7 507.9 L2154.7 507.4 L2157.6 506.8 L2160.6 506.2 L2163.5 505.7 L2166.4 505.1 L2169.4 504.6 L2172.3 504.0 L2175.3 503.4 L2178.2 502.9 L2181.2 502.3 L2184.1 501.8 L2187.1 501.2 L2190.0 500.7 L2193.0 500.1" stroke="#350F70" stroke-width="7.2" stroke-dasharray="7.4 7.6"/>
<path d="M658.6 1828.1 L659.7 1825.3 L660.8 1822.5 L661.9 1819.7 L663.0 1817.0 L664.1 1814.2 L665.2 1811.4 L666.3 1808.6 L667.5 1805.8 L668.6 1803.0 L669.7 1800.2 L670.8 1797.4 L671.9 1794.6 L673.1 1791.9 L674.2 1789.1 L675.3 1786.3 L676.4 1783.5 L677.6 1780.7 L678.7 1777.9 L679.9 1775.2 L681.0 1772.4 L682.2 1769.6 L683.3 1766.8 L684.4 1764.1 L685.6 1761.3 L686.8 1758.5 L687.9 1755.7 L689.1 1753.0 L690.2 1750.2 L691.4 1747.4 L692.6 1744.7 L693.7 1741.9 L694.9 1739.1 L696.1 1736.4 L697.3 1733.6 L698.4 1730.8 L699.6 1728.1 L700.8 1725.3 L702.0 1722.6 L703.2 1719.8 L704.4 1717.0 L705.6 1714.3 L706.8 1711.5 L708.0 1708.8 L709.2 1706.0 L710.4 1703.3 L711.6 1700.5 L712.8 1697.8 L714.0 1695.0 L715.2 1692.3 L716.4 1689.5 L717.7 1686.8 L718.9 1684.0 L720.1 1681.3 L721.3 1678.6 L722.6 1675.8 L723.8 1673.1 L725.0 1670.3 L726.3 1667.6 L727.5 1664.9 L728.8 1662.1 L730.0 1659.4 L731.3 1656.7 L732.5 1653.9 L733.8 1651.2 L735.0 1648.5 L736.3 1645.8 L737.6 1643.0 L738.8 1640.3 L740.1 1637.6 L741.4 1634.9 L742.6 1632.2 L743.9 1629.4 L745.2 1626.7 L746.5 1624.0 L747.8 1621.3 L749.1 1618.6 L750.4 1615.9 L751.6 1613.2 L752.9 1610.4 L754.2 1607.7 L755.6 1605.0 L756.9 1602.3 L758.2 1599.6 L759.5 1596.9 L760.8 1594.2 L762.1 1591.5 L763.4 1588.8 L764.8 1586.1 L766.1 1583.4 L767.4 1580.7 L768.7 1578.0 L770.1 1575.4 L771.4 1572.7 L772.8 1570.0 L774.1 1567.3 L775.5 1564.6 L776.8 1561.9 L778.2 1559.2 L779.5 1556.6 L780.9 1553.9 L782.2 1551.2 L783.6 1548.5 L785.0 1545.9 L786.3 1543.2 L787.7 1540.5 L789.1 1537.8 L790.5 1535.2 L791.9 1532.5 L793.2 1529.8 L794.6 1527.2 L796.0 1524.5 L797.4 1521.9 L798.8 1519.2 L800.2 1516.5 L801.6 1513.9 L803.0 1511.2 L804.5 1508.6 L805.9 1505.9 L807.3 1503.3 L808.7 1500.6 L810.1 1498.0 L811.6 1495.4 L813.0 1492.7 L814.4 1490.1 L815.9 1487.4 L817.3 1484.8 L818.8 1482.2 L820.2 1479.5 L821.7 1476.9 L823.1 1474.3 L824.6 1471.7 L826.0 1469.0 L827.5 1466.4 L829.0 1463.8 L830.4 1461.2 L831.9 1458.6 L833.4 1455.9 L834.9 1453.3 L836.3 1450.7 L837.8 1448.1 L839.3 1445.5 L840.8 1442.9 L842.3 1440.3 L843.8 1437.7 L845.3 1435.1 L846.8 1432.5 L848.3 1429.9 L849.9 1427.3 L851.4 1424.7 L852.9 1422.1 L854.4 1419.5 L855.9 1416.9 L857.5 1414.4 L859.0 1411.8 L860.5 1409.2 L862.1 1406.6 L863.6 1404.0 L865.2 1401.5 L866.7 1398.9 L868.3 1396.3 L869.9 1393.8 L871.4 1391.2 L873.0 1388.6 L874.6 1386.1 L876.1 1383.5 L877.7 1380.9 L879.3 1378.4 L880.9 1375.8 L882.5 1373.3 L884.0 1370.7 L885.6 1368.2 L887.2 1365.7 L888.8 1363.1 L890.4 1360.6 L892.1 1358.0 L893.7 1355.5 L895.3 1353.0 L896.9 1350.4 L898.5 1347.9 L900.2 1345.4 L901.8 1342.9 L903.4 1340.3 L905.1 1337.8 L906.7 1335.3 L908.3 1332.8 L910.0 1330.3 L911.6 1327.8 L913.3 1325.3 L915.0 1322.8 L916.6 1320.3 L918.3 1317.8 L920.0 1315.3 L921.6 1312.8 L923.3 1310.3 L925.0 1307.8 L926.7 1305.3 L928.4 1302.8 L930.1 1300.4 L931.8 1297.9 L933.5 1295.4 L935.2 1292.9 L936.9 1290.5 L938.6 1288.0 L940.3 1285.5 L942.0 1283.1 L943.8 1280.6 L945.5 1278.1 L947.2 1275.7 L948.9 1273.2 L950.7 1270.8 L952.4 1268.3 L954.2 1265.9 L955.9 1263.5 L957.7 1261.0 L959.4 1258.6 L961.2 1256.1 L963.0 1253.7 L964.7 1251.3 L966.5 1248.9 L968.3 1246.4 L970.1 1244.0 L971.9 1241.6 L973.6 1239.2 L975.4 1236.8 L977.2 1234.4 L979.0 1232.0 L980.8 1229.6 L982.6 1227.2 L984.5 1224.8 L986.3 1222.4 L988.1 1220.0 L989.9 1217.6 L991.7 1215.2 L993.6 1212.8 L995.4 1210.5 L997.2 1208.1 L999.1 1205.7 L1000.9 1203.3 L1002.8 1201.0 L1004.6 1198.6 L1006.5 1196.3 L1008.4 1193.9 L1010.2 1191.5 L1012.1 1189.2 L1014.0 1186.9 L1015.9 1184.5 L1017.7 1182.2 L1019.6 1179.8 L1021.5 1177.5 L1023.4 1175.2 L1025.3 1172.8 L1027.2 1170.5 L1029.1 1168.2 L1031.0 1165.9 L1032.9 1163.6 L1034.9 1161.2 L1036.8 1158.9 L1038.7 1156.6 L1040.6 1154.3 L1042.6 1152.0 L1044.5 1149.7 L1046.4 1147.4 L1048.4 1145.1 L1050.3 1142.9 L1052.3 1140.6 L1054.2 1138.3 L1056.2 1136.0 L1058.2 1133.7 L1060.1 1131.5 L1062.1 1129.2 L1064.1 1127.0 L1066.1 1124.7 L1068.1 1122.4 L1070.0 1120.2 L1072.0 1117.9 L1074.0 1115.7 L1076.0 1113.5 L1078.0 1111.2 L1080.0 1109.0 L1082.0 1106.7 L1084.1 1104.5 L1086.1 1102.3 L1088.1 1100.1 L1090.1 1097.9 L1092.2 1095.6 L1094.2 1093.4 L1096.2 1091.2 L1098.3 1089.0 L1100.3 1086.8 L1102.4 1084.6 L1104.4 1082.4 L1106.5 1080.3 L1108.6 1078.1 L1110.6 1075.9 L1112.7 1073.7 L1114.8 1071.5 L1116.8 1069.4 L1118.9 1067.2 L1121.0 1065.0 L1123.1 1062.9 L1125.2 1060.7 L1127.3 1058.6 L1129.4 1056.4 L1131.5 1054.3 L1133.6 1052.1 L1135.7 1050.0 L1137.8 1047.9 L1139.9 1045.8 L1142.1 1043.6 L1144.2 1041.5 L1146.3 1039.4 L1148.5 1037.3 L1150.6 1035.2 L1152.7 1033.1 L1154.9 1031.0 L1157.0 1028.9 L1159.2 1026.8 L1161.4 1024.7 L1163.5 1022.6 L1165.7 1020.5 L1167.8 1018.4 L1170.0 1016.4 L1172.2 1014.3 L1174.4 1012.2 L1176.6 1010.2 L1178.7 1008.1 L1180.9 1006.0 L1183.1 1004.0 L1185.3 1001.9 L1187.5 999.9 L1189.7 997.9 L1191.9 995.8 L1194.2 993.8 L1196.4 991.8 L1198.6 989.7 L1200.8 987.7 L1203.0 985.7 L1205.3 983.7 L1207.5 981.7 L1209.7 979.7 L1212.0 977.7 L1214.2 975.7 L1216.5 973.7 L1218.7 971.7 L1221.0 969.7 L1223.2 967.7 L1225.5 965.8 L1227.8 963.8 L1230.0 961.8 L1232.3 959.9 L1234.6 957.9 L1236.9 955.9 L1239.2 954.0 L1241.4 952.0 L1243.7 950.1 L1246.0 948.2 L1248.3 946.2 L1250.6 944.3 L1252.9 942.4 L1255.2 940.4 L1257.5 938.5 L1259.9 936.6 L1262.2 934.7 L1264.5 932.8 L1266.8 930.9 L1269.1 929.0 L1271.5 927.1 L1273.8 925.2 L1276.1 923.3 L1278.5 921.4 L1280.8 919.6 L1283.2 917.7 L1285.5 915.8 L1287.9 913.9 L1290.2 912.1 L1292.6 910.2 L1295.0 908.4 L1297.3 906.5 L1299.7 904.7 L1302.1 902.8 L1304.4 901.0 L1306.8 899.2 L1309.2 897.3 L1311.6 895.5 L1314.0 893.7 L1316.4 891.9 L1318.8 890.0 L1321.2 888.2 L1323.6 886.4 L1326.0 884.6 L1328.4 882.8 L1330.8 881.0 L1333.2 879.2 L1335.6 877.5 L1338.0 875.7 L1340.5 873.9 L1342.9 872.1 L1345.3 870.4 L1347.7 868.6 L1350.2 866.8 L1352.6 865.1 L1355.0 863.3 L1357.5 861.6 L1359.9 859.8 L1362.4 858.1 L1364.8 856.3 L1367.3 854.6 L1369.7 852.9 L1372.2 851.2 L1374.7 849.4 L1377.1 847.7 L1379.6 846.0 L1382.1 844.3 L1384.5 842.6 L1387.0 840.9 L1389.5 839.2 L1392.0 837.5 L1394.5 835.8 L1396.9 834.1 L1399.4 832.4 L1401.9 830.8 L1404.4 829.1 L1406.9 827.4 L1409.4 825.8 L1411.9 824.1 L1414.4 822.4 L1416.9 820.8 L1419.4 819.1 L1421.9 817.5 L1424.5 815.8 L1427.0 814.2 L1429.5 812.6 L1432.0 810.9 L1434.5 809.3 L1437.1 807.7 L1439.6 806.1 L1442.1 804.4 L1444.7 802.8 L1447.2 801.2 L1449.7 799.6 L1452.3 798.0 L1454.8 796.4 L1457.4 794.8 L1459.9 793.2 L1462.5 791.7 L1465.0 790.1 L1467.6 788.5 L1470.1 786.9 L1472.7 785.3 L1475.3 783.8 L1477.8 782.2 L1480.4 780.7 L1483.0 779.1 L1485.5 777.5 L1488.1 776.0 L1490.7 774.5 L1493.3 772.9 L1495.8 771.4 L1498.4 769.8 L1501.0 768.3 L1503.6 766.8 L1506.2 765.3 L1508.8 763.7 L1511.4 762.2 L1514.0 760.7 L1516.6 759.2 L1519.2 757.7 L1521.8 756.2 L1524.4 754.7 L1527.0 753.2 L1529.6 751.7 L1532.2 750.2 L1534.8 748.7 L1537.4 747.3 L1540.0 745.8 L1542.7 744.3 L1545.3 742.8 L1547.9 741.4 L1550.5 739.9 L1553.1 738.4 L1555.8 737.0 L1558.4 735.5 L1561.0 734.1 L1563.7 732.6 L1566.3 731.2 L1568.9 729.8 L1571.6 728.3 L1574.2 726.9 L1576.9 725.5 L1579.5 724.0 L1582.1 722.6 L1584.8 721.2 L1587.4 719.8 L1590.1 718.4 L1592.7 717.0 L1595.4 715.5 L1598.1 714.1 L1600.7 712.7 L1603.4 711.3 L1606.0 710.0 L1608.7 708.6 L1611.4 707.2 L1614.0 705.8 L1616.7 704.4 L1619.4 703.0 L1622.0 701.7 L1624.7 700.3 L1627.4 698.9 L1630.1 697.6 L1632.7 696.2 L1635.4 694.8 L1638.1 693.5 L1640.8 692.1 L1643.5 690.8 L1646.1 689.4 L1648.8 688.1 L1651.5 686.7 L1654.2 685.4 L1656.9 684.1 L1659.6 682.7 L1662.3 681.4 L1665.0 680.1 L1667.7 678.8 L1670.4 677.4 L1673.1 676.1 L1675.8 674.8 L1678.5 673.5 L1681.2 672.2 L1683.9 670.9 L1686.6 669.6 L1689.3 668.3 L1692.0 667.0 L1694.7 665.7 L1697.4 664.4 L1700.2 663.1 L1702.9 661.8 L1705.6 660.6 L1708.3 659.3 L1711.0 658.0 L1713.7 656.7 L1716.5 655.5 L1719.2 654.2 L1721.9 652.9 L1724.6 651.7 L1727.4 650.4 L1730.1 649.1 L1732.8 647.9 L1735.5 646.6 L1738.3 645.4 L1741.0 644.1 L1743.7 642.9 L1746.5 641.6 L1749.2 640.4 L1752.0 639.2 L1754.7 637.9 L1757.4 636.7 L1760.2 635.5 L1762.9 634.3 L1765.7 633.0 L1768.4 631.8 L1771.2 630.6 L1773.9 629.4 L1776.6 628.2 L1779.4 626.9 L1782.1 625.7 L1784.9 624.5 L1787.6 623.3 L1790.4 622.1 L1793.2 620.9 L1795.9 619.7 L1798.7 618.5 L1801.4 617.3 L1804.2 616.2 L1806.9 615.0 L1809.7 613.8 L1812.5 612.6 L1815.2 611.4 L1818.0 610.2 L1820.8 609.1 L1823.5 607.9 L1826.3 606.7 L1829.1 605.6 L1831.8 604.4 L1834.6 603.2 L1837.4 602.1 L1840.1 600.9 L1842.9 599.8 L1845.7 598.6 L1848.5 597.4 L1851.2 596.3 L1854.0 595.1 L1856.8 594.0 L1859.6 592.9 L1862.3 591.7 L1865.1 590.6 L1867.9 589.4 L1870.7 588.3 L1873.5 587.2 L1876.2 586.0 L1879.0 584.9 L1881.8 583.8 L1884.6 582.7 L1887.4 581.5 L1890.2 580.4 L1893.0 579.3 L1895.7 578.2 L1898.5 577.1 L1901.3 576.0 L1904.1 574.8 L1906.9 573.7 L1909.7 572.6 L1912.5 571.5 L1915.3 570.4 L1918.1 569.3 L1920.9 568.2 L1923.7 567.1 L1926.5 566.0 L1929.3 564.9 L1932.1 563.8 L1934.9 562.8 L1937.7 561.7 L1940.5 560.6 L1943.3 559.5 L1946.1 558.4 L1948.9 557.3 L1951.7 556.3 L1954.5 555.2 L1957.3 554.1 L1960.1 553.0 L1962.9 552.0 L1965.7 550.9 L1968.5 549.8 L1971.3 548.8 L1974.1 547.7 L1976.9 546.6 L1979.8 545.6 L1982.6 544.5 L1985.4 543.5 L1988.2 542.4 L1991.0 541.4 L1993.8 540.3 L1996.6 539.3 L1999.5 538.2 L2002.3 537.2 L2005.1 536.1 L2007.9 535.1 L2010.7 534.0 L2013.5 533.0 L2016.4 532.0 L2019.2 530.9 L2022.0 529.9 L2024.8 528.9 L2027.6 527.8 L2030.5 526.8 L2033.3 525.8 L2036.1 524.8 L2038.9 523.7 L2041.8 522.7 L2044.6 521.7 L2047.4 520.7 L2050.2 519.6 L2053.1 518.6 L2055.9 517.6 L2058.7 516.6 L2061.5 515.6 L2064.4 514.6 L2067.2 513.6 L2070.0 512.6 L2072.9 511.5 L2075.7 510.5 L2078.5 509.5 L2081.3 508.5 L2084.2 507.5 L2087.0 506.5 L2089.8 505.5 L2092.7 504.5 L2095.5 503.5 L2098.3 502.6 L2101.2 501.6 L2104.0 500.6 L2106.9 499.6 L2109.7 498.6 L2112.5 497.6 L2115.4 496.6 L2118.2 495.6 L2121.0 494.7 L2123.9 493.7 L2126.7 492.7 L2129.6 491.7 L2132.4 490.7 L2135.2 489.8 L2138.1 488.8 L2140.9 487.8 L2143.8 486.8 L2146.6 485.9 L2149.5 484.9 L2152.3 483.9 L2155.1 483.0 L2158.0 482.0 L2160.8 481.0 L2163.7 480.1 L2166.5 479.1 L2169.4 478.1 L2172.2 477.2 L2175.1 476.2 L2177.9 475.3 L2180.8 474.3 L2183.6 473.4 L2186.5 472.4 L2189.3 471.5 L2192.2 470.5 L2195.0 469.6" stroke="#E93C00" stroke-width="6.8"/>
<path d="M731.8 1822.5 L733.0 1819.8 L734.3 1817.1 L735.5 1814.3 L736.7 1811.6 L738.0 1808.8 L739.2 1806.1 L740.5 1803.4 L741.7 1800.7 L743.0 1797.9 L744.2 1795.2 L745.5 1792.5 L746.7 1789.8 L748.0 1787.0 L749.3 1784.3 L750.6 1781.6 L751.9 1778.9 L753.1 1776.2 L754.4 1773.5 L755.7 1770.8 L757.0 1768.1 L758.3 1765.4 L759.7 1762.7 L761.0 1760.0 L762.3 1757.3 L763.6 1754.6 L764.9 1751.9 L766.3 1749.2 L767.6 1746.5 L768.9 1743.8 L770.3 1741.1 L771.6 1738.4 L773.0 1735.8 L774.3 1733.1 L775.7 1730.4 L777.1 1727.7 L778.5 1725.1 L779.8 1722.4 L781.2 1719.7 L782.6 1717.1 L784.0 1714.4 L785.4 1711.8 L786.8 1709.1 L788.2 1706.4 L789.6 1703.8 L791.0 1701.1 L792.4 1698.5 L793.9 1695.9 L795.3 1693.2 L796.7 1690.6 L798.2 1687.9 L799.6 1685.3 L801.1 1682.7 L802.5 1680.1 L804.0 1677.4 L805.4 1674.8 L806.9 1672.2 L808.4 1669.6 L809.9 1667.0 L811.3 1664.4 L812.8 1661.8 L814.3 1659.2 L815.8 1656.6 L817.3 1654.0 L818.8 1651.4 L820.4 1648.8 L821.9 1646.2 L823.4 1643.6 L824.9 1641.0 L826.5 1638.4 L828.0 1635.9 L829.6 1633.3 L831.1 1630.7 L832.7 1628.1 L834.2 1625.6 L835.8 1623.0 L837.4 1620.5 L838.9 1617.9 L840.5 1615.4 L842.1 1612.8 L843.7 1610.3 L845.3 1607.7 L846.9 1605.2 L848.5 1602.7 L850.1 1600.1 L851.7 1597.6 L853.4 1595.1 L855.0 1592.5 L856.6 1590.0 L858.3 1587.5 L859.9 1585.0 L861.6 1582.5 L863.2 1580.0 L864.9 1577.5 L866.5 1575.0 L868.2 1572.5 L869.9 1570.0 L871.6 1567.5 L873.3 1565.0 L874.9 1562.6 L876.6 1560.1 L878.3 1557.6 L880.1 1555.1 L881.8 1552.7 L883.5 1550.2 L885.2 1547.8 L886.9 1545.3 L888.7 1542.8 L890.4 1540.4 L892.2 1538.0 L893.9 1535.5 L895.7 1533.1 L897.4 1530.6 L899.2 1528.2 L900.9 1525.8 L902.7 1523.4 L904.5 1521.0 L906.3 1518.5 L908.1 1516.1 L909.9 1513.7 L911.7 1511.3 L913.5 1508.9 L915.3 1506.5 L917.1 1504.1 L918.9 1501.7 L920.7 1499.4 L922.6 1497.0 L924.4 1494.6 L926.2 1492.2 L928.1 1489.9 L929.9 1487.5 L931.8 1485.1 L933.6 1482.8 L935.5 1480.4 L937.4 1478.1 L939.2 1475.7 L941.1 1473.4 L943.0 1471.0 L944.9 1468.7 L946.8 1466.4 L948.7 1464.0 L950.6 1461.7 L952.5 1459.4 L954.4 1457.1 L956.3 1454.8 L958.2 1452.4 L960.1 1450.1 L962.0 1447.8 L964.0 1445.5 L965.9 1443.2 L967.8 1440.9 L969.8 1438.7 L971.7 1436.4 L973.7 1434.1 L975.6 1431.8 L977.6 1429.5 L979.6 1427.3 L981.5 1425.0 L983.5 1422.8 L985.5 1420.5 L987.5 1418.2 L989.5 1416.0 L991.5 1413.7 L993.4 1411.5 L995.4 1409.3 L997.4 1407.0 L999.5 1404.8 L1001.5 1402.6 L1003.5 1400.3 L1005.5 1398.1 L1007.5 1395.9 L1009.5 1393.7 L1011.6 1391.5 L1013.6 1389.3 L1015.6 1387.1 L1017.7 1384.9 L1019.7 1382.7 L1021.8 1380.5 L1023.8 1378.3 L1025.9 1376.1 L1028.0 1373.9 L1030.0 1371.7 L1032.1 1369.5 L1034.2 1367.4 L1036.2 1365.2 L1038.3 1363.0 L1040.4 1360.9 L1042.5 1358.7 L1044.6 1356.6 L1046.7 1354.4 L1048.8 1352.3 L1050.9 1350.1 L1053.0 1348.0 L1055.1 1345.8 L1057.2 1343.7 L1059.3 1341.6 L1061.4 1339.4 L1063.5 1337.3 L1065.7 1335.2 L1067.8 1333.1 L1069.9 1331.0 L1072.1 1328.9 L1074.2 1326.8 L1076.3 1324.6 L1078.5 1322.5 L1080.6 1320.4 L1082.8 1318.4 L1084.9 1316.3 L1087.1 1314.2 L1089.2 1312.1 L1091.4 1310.0 L1093.6 1307.9 L1095.7 1305.9 L1097.9 1303.8 L1100.1 1301.7 L1102.3 1299.7 L1104.5 1297.6 L1106.6 1295.5 L1108.8 1293.5 L1111.0 1291.4 L1113.2 1289.4 L1115.4 1287.3 L1117.6 1285.3 L1119.8 1283.3 L1122.0 1281.2 L1124.2 1279.2 L1126.4 1277.2 L1128.7 1275.1 L1130.9 1273.1 L1133.1 1271.1 L1135.3 1269.1 L1137.6 1267.1 L1139.8 1265.1 L1142.0 1263.0 L1144.3 1261.0 L1146.5 1259.0 L1148.7 1257.0 L1151.0 1255.1 L1153.2 1253.1 L1155.5 1251.1 L1157.7 1249.1 L1160.0 1247.1 L1162.2 1245.1 L1164.5 1243.2 L1166.8 1241.2 L1169.0 1239.2 L1171.3 1237.3 L1173.6 1235.3 L1175.9 1233.3 L1178.1 1231.4 L1180.4 1229.4 L1182.7 1227.5 L1185.0 1225.5 L1187.3 1223.6 L1189.6 1221.7 L1191.9 1219.7 L1194.2 1217.8 L1196.5 1215.9 L1198.8 1213.9 L1201.1 1212.0 L1203.4 1210.1 L1205.7 1208.2 L1208.0 1206.3 L1210.3 1204.3 L1212.6 1202.4 L1214.9 1200.5 L1217.3 1198.6 L1219.6 1196.7 L1221.9 1194.8 L1224.2 1192.9 L1226.6 1191.1 L1228.9 1189.2 L1231.3 1187.3 L1233.6 1185.4 L1235.9 1183.5 L1238.3 1181.7 L1240.6 1179.8 L1243.0 1177.9 L1245.3 1176.1 L1247.7 1174.2 L1250.1 1172.3 L1252.4 1170.5 L1254.8 1168.6 L1257.2 1166.8 L1259.5 1165.0 L1261.9 1163.1 L1264.3 1161.3 L1266.6 1159.4 L1269.0 1157.6 L1271.4 1155.8 L1273.8 1154.0 L1276.2 1152.1 L1278.6 1150.3 L1281.0 1148.5 L1283.4 1146.7 L1285.8 1144.9 L1288.2 1143.1 L1290.6 1141.3 L1293.0 1139.5 L1295.4 1137.7 L1297.8 1135.9 L1300.2 1134.1 L1302.6 1132.3 L1305.0 1130.6 L1307.4 1128.8 L1309.9 1127.0 L1312.3 1125.2 L1314.7 1123.5 L1317.1 1121.7 L1319.6 1120.0 L1322.0 1118.2 L1324.5 1116.4 L1326.9 1114.7 L1329.3 1112.9 L1331.8 1111.2 L1334.2 1109.5 L1336.7 1107.7 L1339.1 1106.0 L1341.6 1104.3 L1344.0 1102.5 L1346.5 1100.8 L1349.0 1099.1 L1351.4 1097.4 L1353.9 1095.7 L1356.3 1094.0 L1358.8 1092.3 L1361.3 1090.6 L1363.8 1088.9 L1366.2 1087.2 L1368.7 1085.5 L1371.2 1083.8 L1373.7 1082.1 L1376.2 1080.4 L1378.7 1078.7 L1381.2 1077.1 L1383.7 1075.4 L1386.2 1073.7 L1388.7 1072.1 L1391.2 1070.4 L1393.7 1068.8 L1396.2 1067.1 L1398.7 1065.5 L1401.2 1063.8 L1403.7 1062.2 L1406.2 1060.5 L1408.7 1058.9 L1411.3 1057.3 L1413.8 1055.6 L1416.3 1054.0 L1418.8 1052.4 L1421.4 1050.8 L1423.9 1049.2 L1426.4 1047.6 L1429.0 1045.9 L1431.5 1044.3 L1434.0 1042.7 L1436.6 1041.2 L1439.1 1039.6 L1441.7 1038.0 L1444.2 1036.4 L1446.8 1034.8 L1449.3 1033.2 L1451.9 1031.7 L1454.4 1030.1 L1457.0 1028.5 L1459.6 1027.0 L1462.1 1025.4 L1464.7 1023.9 L1467.3 1022.3 L1469.9 1020.8 L1472.4 1019.2 L1475.0 1017.7 L1477.6 1016.1 L1480.2 1014.6 L1482.7 1013.1 L1485.3 1011.5 L1487.9 1010.0 L1490.5 1008.5 L1493.1 1007.0 L1495.7 1005.5 L1498.3 1004.0 L1500.9 1002.5 L1503.5 1001.0 L1506.1 999.5 L1508.7 998.0 L1511.3 996.5 L1513.9 995.0 L1516.5 993.5 L1519.1 992.1 L1521.8 990.6 L1524.4 989.1 L1527.0 987.6 L1529.6 986.2 L1532.2 984.7 L1534.9 983.3 L1537.5 981.8 L1540.1 980.4 L1542.8 978.9 L1545.4 977.5 L1548.0 976.1 L1550.7 974.6 L1553.3 973.2 L1555.9 971.8 L1558.6 970.3 L1561.2 968.9 L1563.9 967.5 L1566.5 966.1 L1569.2 964.7 L1571.8 963.3 L1574.5 961.9 L1577.2 960.5 L1579.8 959.1 L1582.5 957.7 L1585.1 956.3 L1587.8 955.0 L1590.5 953.6 L1593.1 952.2 L1595.8 950.8 L1598.5 949.5 L1601.2 948.1 L1603.8 946.7 L1606.5 945.4 L1609.2 944.0 L1611.9 942.7 L1614.6 941.3 L1617.2 940.0 L1619.9 938.7 L1622.6 937.3 L1625.3 936.0 L1628.0 934.7 L1630.7 933.4 L1633.4 932.0 L1636.1 930.7 L1638.8 929.4 L1641.5 928.1 L1644.2 926.8 L1646.9 925.5 L1649.6 924.2 L1652.3 922.9 L1655.0 921.6 L1657.7 920.3 L1660.5 919.0 L1663.2 917.8 L1665.9 916.5 L1668.6 915.2 L1671.3 913.9 L1674.1 912.7 L1676.8 911.4 L1679.5 910.2 L1682.2 908.9 L1685.0 907.7 L1687.7 906.4 L1690.4 905.2 L1693.2 903.9 L1695.9 902.7 L1698.6 901.4 L1701.4 900.2 L1704.1 899.0 L1706.8 897.8 L1709.6 896.5 L1712.3 895.3 L1715.1 894.1 L1717.8 892.9 L1720.6 891.7 L1723.3 890.5 L1726.1 889.3 L1728.8 888.1 L1731.6 886.9 L1734.3 885.7 L1737.1 884.5 L1739.8 883.3 L1742.6 882.1 L1745.4 881.0 L1748.1 879.8 L1750.9 878.6 L1753.7 877.4 L1756.4 876.3 L1759.2 875.1 L1762.0 874.0 L1764.7 872.8 L1767.5 871.7 L1770.3 870.5 L1773.1 869.4 L1775.8 868.2 L1778.6 867.1 L1781.4 865.9 L1784.2 864.8 L1786.9 863.7 L1789.7 862.5 L1792.5 861.4 L1795.3 860.3 L1798.1 859.2 L1800.9 858.0 L1803.6 856.9 L1806.4 855.8 L1809.2 854.7 L1812.0 853.6 L1814.8 852.5 L1817.6 851.4 L1820.4 850.3 L1823.2 849.2 L1826.0 848.1 L1828.8 847.0 L1831.6 846.0 L1834.4 844.9 L1837.2 843.8 L1840.0 842.7 L1842.8 841.6 L1845.6 840.6 L1848.4 839.5 L1851.2 838.4 L1854.0 837.4 L1856.8 836.3 L1859.6 835.3 L1862.4 834.2 L1865.3 833.1 L1868.1 832.1 L1870.9 831.0 L1873.7 830.0 L1876.5 829.0 L1879.3 827.9 L1882.1 826.9 L1885.0 825.8 L1887.8 824.8 L1890.6 823.8 L1893.4 822.8 L1896.2 821.7 L1899.1 820.7 L1901.9 819.7 L1904.7 818.7 L1907.5 817.7 L1910.4 816.6 L1913.2 815.6 L1916.0 814.6 L1918.8 813.6 L1921.7 812.6 L1924.5 811.6 L1927.3 810.6 L1930.2 809.6 L1933.0 808.6 L1935.8 807.6 L1938.7 806.6 L1941.5 805.6 L1944.3 804.7 L1947.2 803.7 L1950.0 802.7 L1952.8 801.7 L1955.7 800.7 L1958.5 799.7 L1961.4 798.8 L1964.2 797.8 L1967.0 796.8 L1969.9 795.9 L1972.7 794.9 L1975.6 793.9 L1978.4 793.0 L1981.3 792.0 L1984.1 791.1 L1986.9 790.1 L1989.8 789.1 L1992.6 788.2 L1995.5 787.2 L1998.3 786.3 L2001.2 785.3 L2004.0 784.4 L2006.9 783.4 L2009.7 782.5 L2012.6 781.6 L2015.4 780.6 L2018.3 779.7 L2021.1 778.7 L2024.0 777.8 L2026.8 776.9 L2029.7 776.0 L2032.5 775.0 L2035.4 774.1 L2038.3 773.2 L2041.1 772.2 L2044.0 771.3 L2046.8 770.4 L2049.7 769.5 L2052.5 768.6 L2055.4 767.6 L2058.3 766.7 L2061.1 765.8 L2064.0 764.9 L2066.8 764.0 L2069.7 763.1 L2072.6 762.2 L2075.4 761.3 L2078.3 760.4 L2081.1 759.4 L2084.0 758.5 L2086.9 757.6 L2089.7 756.7 L2092.6 755.8 L2095.5 754.9 L2098.3 754.0 L2101.2 753.1 L2104.1 752.2 L2106.9 751.4 L2109.8 750.5 L2112.7 749.6 L2115.5 748.7 L2118.4 747.8 L2121.3 746.9 L2124.1 746.0 L2127.0 745.1 L2129.9 744.2 L2132.7 743.4 L2135.6 742.5 L2138.5 741.6 L2141.3 740.7 L2144.2 739.8 L2147.1 738.9 L2149.9 738.1 L2152.8 737.2 L2155.7 736.3 L2158.6 735.4 L2161.4 734.6 L2164.3 733.7 L2167.2 732.8 L2170.0 731.9 L2172.9 731.1 L2175.8 730.2 L2178.7 729.3 L2181.5 728.4 L2184.4 727.6 L2187.3 726.7 L2190.2 725.8 L2193.0 725.0 L2195.9 724.1" stroke="#E93C00" stroke-width="7.2" stroke-dasharray="7.4 7.6"/>
<path d="M1197.0 1819.1 L1198.5 1816.5 L1200.1 1813.9 L1201.6 1811.4 L1203.2 1808.8 L1204.8 1806.2 L1206.3 1803.6 L1207.9 1801.1 L1209.4 1798.5 L1211.0 1796.0 L1212.6 1793.4 L1214.2 1790.8 L1215.8 1788.3 L1217.4 1785.7 L1219.0 1783.2 L1220.6 1780.6 L1222.2 1778.1 L1223.8 1775.6 L1225.4 1773.0 L1227.0 1770.5 L1228.6 1767.9 L1230.2 1765.4 L1231.9 1762.9 L1233.5 1760.4 L1235.1 1757.8 L1236.8 1755.3 L1238.4 1752.8 L1240.0 1750.3 L1241.7 1747.8 L1243.3 1745.3 L1245.0 1742.7 L1246.7 1740.2 L1248.3 1737.7 L1250.0 1735.2 L1251.7 1732.7 L1253.4 1730.2 L1255.0 1727.8 L1256.7 1725.3 L1258.4 1722.8 L1260.1 1720.3 L1261.8 1717.8 L1263.5 1715.3 L1265.2 1712.8 L1266.9 1710.4 L1268.6 1707.9 L1270.3 1705.4 L1272.0 1703.0 L1273.8 1700.5 L1275.5 1698.0 L1277.2 1695.6 L1279.0 1693.1 L1280.7 1690.7 L1282.4 1688.2 L1284.2 1685.8 L1285.9 1683.3 L1287.7 1680.9 L1289.4 1678.4 L1291.2 1676.0 L1293.0 1673.6 L1294.7 1671.1 L1296.5 1668.7 L1298.3 1666.3 L1300.1 1663.9 L1301.8 1661.4 L1303.6 1659.0 L1305.4 1656.6 L1307.2 1654.2 L1309.0 1651.8 L1310.8 1649.4 L1312.6 1647.0 L1314.4 1644.6 L1316.2 1642.2 L1318.0 1639.8 L1319.9 1637.4 L1321.7 1635.0 L1323.5 1632.6 L1325.3 1630.2 L1327.2 1627.8 L1329.0 1625.4 L1330.8 1623.1 L1332.7 1620.7 L1334.5 1618.3 L1336.4 1615.9 L1338.2 1613.6 L1340.1 1611.2 L1341.9 1608.8 L1343.8 1606.5 L1345.7 1604.1 L1347.5 1601.8 L1349.4 1599.4 L1351.3 1597.1 L1353.2 1594.7 L1355.0 1592.4 L1356.9 1590.0 L1358.8 1587.7 L1360.7 1585.4 L1362.6 1583.0 L1364.5 1580.7 L1366.4 1578.4 L1368.3 1576.0 L1370.2 1573.7 L1372.1 1571.4 L1374.1 1569.1 L1376.0 1566.8 L1377.9 1564.5 L1379.8 1562.2 L1381.8 1559.9 L1383.7 1557.5 L1385.6 1555.2 L1387.6 1553.0 L1389.5 1550.7 L1391.5 1548.4 L1393.4 1546.1 L1395.4 1543.8 L1397.3 1541.5 L1399.3 1539.2 L1401.2 1536.9 L1403.2 1534.7 L1405.2 1532.4 L1407.1 1530.1 L1409.1 1527.9 L1411.1 1525.6 L1413.1 1523.3 L1415.0 1521.1 L1417.0 1518.8 L1419.0 1516.6 L1421.0 1514.3 L1423.0 1512.1 L1425.0 1509.8 L1427.0 1507.6 L1429.0 1505.3 L1431.0 1503.1 L1433.0 1500.9 L1435.0 1498.6 L1437.1 1496.4 L1439.1 1494.2 L1441.1 1491.9 L1443.1 1489.7 L1445.2 1487.5 L1447.2 1485.3 L1449.2 1483.1 L1451.3 1480.9 L1453.3 1478.7 L1455.3 1476.4 L1457.4 1474.2 L1459.4 1472.0 L1461.5 1469.8 L1463.5 1467.7 L1465.6 1465.5 L1467.7 1463.3 L1469.7 1461.1 L1471.8 1458.9 L1473.9 1456.7 L1475.9 1454.5 L1478.0 1452.4 L1480.1 1450.2 L1482.2 1448.0 L1484.3 1445.9 L1486.3 1443.7 L1488.4 1441.5 L1490.5 1439.4 L1492.6 1437.2 L1494.7 1435.1 L1496.8 1432.9 L1498.9 1430.8 L1501.0 1428.6 L1503.1 1426.5 L1505.3 1424.3 L1507.4 1422.2 L1509.5 1420.1 L1511.6 1417.9 L1513.7 1415.8 L1515.9 1413.7 L1518.0 1411.6 L1520.1 1409.4 L1522.3 1407.3 L1524.4 1405.2 L1526.5 1403.1 L1528.7 1401.0 L1530.8 1398.9 L1533.0 1396.8 L1535.1 1394.7 L1537.3 1392.6 L1539.4 1390.5 L1541.6 1388.4 L1543.7 1386.3 L1545.9 1384.2 L1548.1 1382.1 L1550.2 1380.0 L1552.4 1378.0 L1554.6 1375.9 L1556.8 1373.8 L1558.9 1371.7 L1561.1 1369.7 L1563.3 1367.6 L1565.5 1365.5 L1567.7 1363.5 L1569.9 1361.4 L1572.1 1359.4 L1574.3 1357.3 L1576.5 1355.3 L1578.7 1353.2 L1580.9 1351.2 L1583.1 1349.1 L1585.3 1347.1 L1587.5 1345.1 L1589.7 1343.0 L1592.0 1341.0 L1594.2 1339.0 L1596.4 1337.0 L1598.6 1334.9 L1600.9 1332.9 L1603.1 1330.9 L1605.3 1328.9 L1607.6 1326.9 L1609.8 1324.9 L1612.0 1322.9 L1614.3 1320.9 L1616.5 1318.9 L1618.8 1316.9 L1621.0 1314.9 L1623.3 1312.9 L1625.5 1310.9 L1627.8 1308.9 L1630.1 1307.0 L1632.3 1305.0 L1634.6 1303.0 L1636.9 1301.0 L1639.1 1299.1 L1641.4 1297.1 L1643.7 1295.1 L1646.0 1293.2 L1648.2 1291.2 L1650.5 1289.3 L1652.8 1287.3 L1655.1 1285.4 L1657.4 1283.4 L1659.7 1281.5 L1662.0 1279.5 L1664.3 1277.6 L1666.6 1275.6 L1668.9 1273.7 L1671.2 1271.8 L1673.5 1269.9 L1675.8 1267.9 L1678.1 1266.0 L1680.4 1264.1 L1682.7 1262.2 L1685.1 1260.3 L1687.4 1258.4 L1689.7 1256.5 L1692.0 1254.5 L1694.4 1252.6 L1696.7 1250.7 L1699.0 1248.9 L1701.4 1247.0 L1703.7 1245.1 L1706.1 1243.2 L1708.4 1241.3 L1710.7 1239.4 L1713.1 1237.5 L1715.4 1235.7 L1717.8 1233.8 L1720.1 1231.9 L1722.5 1230.1 L1724.9 1228.2 L1727.2 1226.3 L1729.6 1224.5 L1732.0 1222.6 L1734.3 1220.8 L1736.7 1218.9 L1739.1 1217.1 L1741.4 1215.2 L1743.8 1213.4 L1746.2 1211.6 L1748.6 1209.7 L1751.0 1207.9 L1753.4 1206.1 L1755.8 1204.3 L1758.1 1202.4 L1760.5 1200.6 L1762.9 1198.8 L1765.3 1197.0 L1767.7 1195.2 L1770.1 1193.4 L1772.5 1191.6 L1775.0 1189.8 L1777.4 1188.0 L1779.8 1186.2 L1782.2 1184.4 L1784.6 1182.6 L1787.0 1180.8 L1789.4 1179.0 L1791.9 1177.3 L1794.3 1175.5 L1796.7 1173.7 L1799.2 1171.9 L1801.6 1170.2 L1804.0 1168.4 L1806.5 1166.6 L1808.9 1164.9 L1811.3 1163.1 L1813.8 1161.4 L1816.2 1159.6 L1818.7 1157.9 L1821.1 1156.1 L1823.6 1154.4 L1826.0 1152.7 L1828.5 1150.9 L1830.9 1149.2 L1833.4 1147.5 L1835.9 1145.7 L1838.3 1144.0 L1840.8 1142.3 L1843.3 1140.6 L1845.7 1138.9 L1848.2 1137.2 L1850.7 1135.5 L1853.2 1133.8 L1855.6 1132.1 L1858.1 1130.4 L1860.6 1128.7 L1863.1 1127.0 L1865.6 1125.3 L1868.1 1123.6 L1870.6 1121.9 L1873.1 1120.3 L1875.6 1118.6 L1878.1 1116.9 L1880.6 1115.2 L1883.1 1113.6 L1885.6 1111.9 L1888.1 1110.3 L1890.6 1108.6 L1893.1 1106.9 L1895.6 1105.3 L1898.1 1103.6 L1900.6 1102.0 L1903.2 1100.4 L1905.7 1098.7 L1908.2 1097.1 L1910.7 1095.5 L1913.3 1093.8 L1915.8 1092.2 L1918.3 1090.6 L1920.9 1089.0 L1923.4 1087.4 L1925.9 1085.7 L1928.5 1084.1 L1931.0 1082.5 L1933.6 1080.9 L1936.1 1079.3 L1938.7 1077.7 L1941.2 1076.1 L1943.8 1074.5 L1946.3 1073.0 L1948.9 1071.4 L1951.4 1069.8 L1954.0 1068.2 L1956.5 1066.6 L1959.1 1065.1 L1961.7 1063.5 L1964.2 1061.9 L1966.8 1060.4 L1969.4 1058.8 L1972.0 1057.3 L1974.5 1055.7 L1977.1 1054.2 L1979.7 1052.6 L1982.3 1051.1 L1984.8 1049.6 L1987.4 1048.0 L1990.0 1046.5 L1992.6 1045.0 L1995.2 1043.4 L1997.8 1041.9 L2000.4 1040.4 L2003.0 1038.9 L2005.6 1037.4 L2008.2 1035.9 L2010.8 1034.3 L2013.4 1032.8 L2016.0 1031.3 L2018.6 1029.8 L2021.2 1028.4 L2023.8 1026.9 L2026.4 1025.4 L2029.1 1023.9 L2031.7 1022.4 L2034.3 1020.9 L2036.9 1019.5 L2039.5 1018.0 L2042.2 1016.5 L2044.8 1015.1 L2047.4 1013.6 L2050.0 1012.1 L2052.7 1010.7 L2055.3 1009.2 L2057.9 1007.8 L2060.6 1006.3 L2063.2 1004.9 L2065.9 1003.5 L2068.5 1002.0 L2071.1 1000.6 L2073.8 999.2 L2076.4 997.8 L2079.1 996.3 L2081.7 994.9 L2084.4 993.5 L2087.0 992.1 L2089.7 990.7 L2092.4 989.3 L2095.0 987.9 L2097.7 986.5 L2100.3 985.1 L2103.0 983.7 L2105.7 982.3 L2108.3 980.9 L2111.0 979.5 L2113.7 978.2 L2116.4 976.8 L2119.0 975.4 L2121.7 974.0 L2124.4 972.7 L2127.1 971.3 L2129.7 970.0 L2132.4 968.6 L2135.1 967.2 L2137.8 965.9 L2140.5 964.5 L2143.2 963.2 L2145.9 961.9 L2148.6 960.5 L2151.3 959.2 L2154.0 957.9 L2156.7 956.5 L2159.4 955.2 L2162.1 953.9 L2164.8 952.6 L2167.5 951.3 L2170.2 950.0 L2172.9 948.7 L2175.6 947.4 L2178.3 946.1 L2181.0 944.8 L2183.7 943.5 L2186.4 942.2 L2189.2 940.9 L2191.9 939.6 L2194.6 938.3" stroke="#00904A" stroke-width="6.8"/>
<path d="M1236.0 1812.0 L1237.8 1809.5 L1239.6 1807.1 L1241.3 1804.7 L1243.1 1802.3 L1244.9 1799.9 L1246.7 1797.4 L1248.5 1795.0 L1250.3 1792.6 L1252.1 1790.2 L1253.9 1787.8 L1255.8 1785.4 L1257.6 1783.1 L1259.4 1780.7 L1261.2 1778.3 L1263.1 1775.9 L1264.9 1773.5 L1266.8 1771.1 L1268.6 1768.8 L1270.5 1766.4 L1272.3 1764.0 L1274.2 1761.7 L1276.0 1759.3 L1277.9 1757.0 L1279.8 1754.6 L1281.6 1752.3 L1283.5 1749.9 L1285.4 1747.6 L1287.3 1745.2 L1289.2 1742.9 L1291.0 1740.5 L1292.9 1738.2 L1294.8 1735.9 L1296.7 1733.5 L1298.6 1731.2 L1300.5 1728.9 L1302.5 1726.6 L1304.4 1724.3 L1306.3 1721.9 L1308.2 1719.6 L1310.1 1717.3 L1312.1 1715.0 L1314.0 1712.7 L1315.9 1710.4 L1317.9 1708.1 L1319.8 1705.8 L1321.7 1703.5 L1323.7 1701.2 L1325.6 1698.9 L1327.6 1696.7 L1329.5 1694.4 L1331.5 1692.1 L1333.5 1689.8 L1335.4 1687.5 L1337.4 1685.3 L1339.4 1683.0 L1341.4 1680.7 L1343.3 1678.5 L1345.3 1676.2 L1347.3 1674.0 L1349.3 1671.7 L1351.3 1669.5 L1353.3 1667.2 L1355.3 1665.0 L1357.3 1662.7 L1359.3 1660.5 L1361.3 1658.2 L1363.3 1656.0 L1365.3 1653.8 L1367.3 1651.5 L1369.3 1649.3 L1371.4 1647.1 L1373.4 1644.9 L1375.4 1642.6 L1377.4 1640.4 L1379.5 1638.2 L1381.5 1636.0 L1383.6 1633.8 L1385.6 1631.6 L1387.6 1629.4 L1389.7 1627.2 L1391.7 1625.0 L1393.8 1622.8 L1395.9 1620.6 L1397.9 1618.4 L1400.0 1616.2 L1402.0 1614.1 L1404.1 1611.9 L1406.2 1609.7 L1408.3 1607.5 L1410.3 1605.3 L1412.4 1603.2 L1414.5 1601.0 L1416.6 1598.9 L1418.7 1596.7 L1420.8 1594.5 L1422.9 1592.4 L1425.0 1590.2 L1427.1 1588.1 L1429.2 1585.9 L1431.3 1583.8 L1433.4 1581.6 L1435.5 1579.5 L1437.6 1577.4 L1439.7 1575.2 L1441.9 1573.1 L1444.0 1571.0 L1446.1 1568.9 L1448.2 1566.7 L1450.4 1564.6 L1452.5 1562.5 L1454.6 1560.4 L1456.8 1558.3 L1458.9 1556.2 L1461.1 1554.1 L1463.2 1552.0 L1465.4 1549.9 L1467.5 1547.8 L1469.7 1545.7 L1471.9 1543.6 L1474.0 1541.5 L1476.2 1539.4 L1478.4 1537.4 L1480.5 1535.3 L1482.7 1533.2 L1484.9 1531.1 L1487.1 1529.1 L1489.2 1527.0 L1491.4 1524.9 L1493.6 1522.9 L1495.8 1520.8 L1498.0 1518.8 L1500.2 1516.7 L1502.4 1514.7 L1504.6 1512.6 L1506.8 1510.6 L1509.0 1508.5 L1511.2 1506.5 L1513.5 1504.5 L1515.7 1502.5 L1517.9 1500.4 L1520.1 1498.4 L1522.3 1496.4 L1524.6 1494.4 L1526.8 1492.3 L1529.0 1490.3 L1531.3 1488.3 L1533.5 1486.3 L1535.8 1484.3 L1538.0 1482.3 L1540.2 1480.3 L1542.5 1478.3 L1544.7 1476.3 L1547.0 1474.4 L1549.3 1472.4 L1551.5 1470.4 L1553.8 1468.4 L1556.0 1466.4 L1558.3 1464.5 L1560.6 1462.5 L1562.9 1460.5 L1565.1 1458.6 L1567.4 1456.6 L1569.7 1454.6 L1572.0 1452.7 L1574.3 1450.7 L1576.6 1448.8 L1578.8 1446.9 L1581.1 1444.9 L1583.4 1443.0 L1585.7 1441.0 L1588.0 1439.1 L1590.3 1437.2 L1592.7 1435.2 L1595.0 1433.3 L1597.3 1431.4 L1599.6 1429.5 L1601.9 1427.6 L1604.2 1425.7 L1606.5 1423.8 L1608.9 1421.8 L1611.2 1419.9 L1613.5 1418.0 L1615.9 1416.1 L1618.2 1414.3 L1620.5 1412.4 L1622.9 1410.5 L1625.2 1408.6 L1627.6 1406.7 L1629.9 1404.8 L1632.3 1403.0 L1634.6 1401.1 L1637.0 1399.2 L1639.3 1397.4 L1641.7 1395.5 L1644.0 1393.6 L1646.4 1391.8 L1648.8 1389.9 L1651.1 1388.1 L1653.5 1386.2 L1655.9 1384.4 L1658.3 1382.5 L1660.6 1380.7 L1663.0 1378.9 L1665.4 1377.0 L1667.8 1375.2 L1670.2 1373.4 L1672.6 1371.5 L1675.0 1369.7 L1677.3 1367.9 L1679.7 1366.1 L1682.1 1364.3 L1684.5 1362.5 L1686.9 1360.7 L1689.3 1358.9 L1691.8 1357.1 L1694.2 1355.3 L1696.6 1353.5 L1699.0 1351.7 L1701.4 1349.9 L1703.8 1348.1 L1706.2 1346.3 L1708.7 1344.6 L1711.1 1342.8 L1713.5 1341.0 L1716.0 1339.2 L1718.4 1337.5 L1720.8 1335.7 L1723.3 1333.9 L1725.7 1332.2 L1728.1 1330.4 L1730.6 1328.7 L1733.0 1326.9 L1735.5 1325.2 L1737.9 1323.4 L1740.4 1321.7 L1742.8 1320.0 L1745.3 1318.2 L1747.7 1316.5 L1750.2 1314.8 L1752.7 1313.0 L1755.1 1311.3 L1757.6 1309.6 L1760.0 1307.9 L1762.5 1306.2 L1765.0 1304.5 L1767.5 1302.8 L1769.9 1301.0 L1772.4 1299.3 L1774.9 1297.6 L1777.4 1296.0 L1779.9 1294.3 L1782.3 1292.6 L1784.8 1290.9 L1787.3 1289.2 L1789.8 1287.5 L1792.3 1285.8 L1794.8 1284.2 L1797.3 1282.5 L1799.8 1280.8 L1802.3 1279.2 L1804.8 1277.5 L1807.3 1275.8 L1809.8 1274.2 L1812.3 1272.5 L1814.8 1270.9 L1817.3 1269.2 L1819.9 1267.6 L1822.4 1265.9 L1824.9 1264.3 L1827.4 1262.6 L1829.9 1261.0 L1832.5 1259.4 L1835.0 1257.7 L1837.5 1256.1 L1840.0 1254.5 L1842.6 1252.9 L1845.1 1251.3 L1847.6 1249.6 L1850.2 1248.0 L1852.7 1246.4 L1855.3 1244.8 L1857.8 1243.2 L1860.4 1241.6 L1862.9 1240.0 L1865.4 1238.4 L1868.0 1236.8 L1870.5 1235.2 L1873.1 1233.7 L1875.7 1232.1 L1878.2 1230.5 L1880.8 1228.9 L1883.3 1227.3 L1885.9 1225.8 L1888.5 1224.2 L1891.0 1222.6 L1893.6 1221.1 L1896.2 1219.5 L1898.7 1218.0 L1901.3 1216.4 L1903.9 1214.9 L1906.5 1213.3 L1909.0 1211.8 L1911.6 1210.2 L1914.2 1208.7 L1916.8 1207.1 L1919.4 1205.6 L1922.0 1204.1 L1924.5 1202.6 L1927.1 1201.0 L1929.7 1199.5 L1932.3 1198.0 L1934.9 1196.5 L1937.5 1195.0 L1940.1 1193.5 L1942.7 1191.9 L1945.3 1190.4 L1947.9 1188.9 L1950.5 1187.4 L1953.1 1186.0 L1955.7 1184.5 L1958.4 1183.0 L1961.0 1181.5 L1963.6 1180.0 L1966.2 1178.5 L1968.8 1177.0 L1971.4 1175.6 L1974.1 1174.1 L1976.7 1172.6 L1979.3 1171.2 L1981.9 1169.7 L1984.6 1168.3 L1987.2 1166.8 L1989.8 1165.3 L1992.5 1163.9 L1995.1 1162.4 L1997.7 1161.0 L2000.4 1159.6 L2003.0 1158.1 L2005.6 1156.7 L2008.3 1155.3 L2010.9 1153.8 L2013.6 1152.4 L2016.2 1151.0 L2018.9 1149.6 L2021.5 1148.1 L2024.2 1146.7 L2026.8 1145.3 L2029.5 1143.9 L2032.2 1142.5 L2034.8 1141.1 L2037.5 1139.7 L2040.1 1138.3 L2042.8 1136.9 L2045.5 1135.5 L2048.1 1134.2 L2050.8 1132.8 L2053.5 1131.4 L2056.2 1130.0 L2058.8 1128.7 L2061.5 1127.3 L2064.2 1125.9 L2066.9 1124.6 L2069.5 1123.2 L2072.2 1121.8 L2074.9 1120.5 L2077.6 1119.1 L2080.3 1117.8 L2083.0 1116.4 L2085.7 1115.1 L2088.4 1113.8 L2091.0 1112.4 L2093.7 1111.1 L2096.4 1109.8 L2099.1 1108.5 L2101.8 1107.1 L2104.5 1105.8 L2107.2 1104.5 L2109.9 1103.2 L2112.7 1101.9 L2115.4 1100.6 L2118.1 1099.3 L2120.8 1098.0 L2123.5 1096.7 L2126.2 1095.4 L2128.9 1094.1 L2131.6 1092.8 L2134.4 1091.6 L2137.1 1090.3 L2139.8 1089.0 L2142.5 1087.7 L2145.3 1086.5 L2148.0 1085.2 L2150.7 1083.9 L2153.4 1082.7 L2156.2 1081.4 L2158.9 1080.2 L2161.6 1078.9 L2164.4 1077.7 L2167.1 1076.5 L2169.9 1075.2 L2172.6 1074.0 L2175.4 1072.8 L2178.1 1071.5 L2180.8 1070.3 L2183.6 1069.1 L2186.3 1067.9 L2189.1 1066.7 L2191.8 1065.5 L2194.6 1064.3" stroke="#00904A" stroke-width="7.2" stroke-dasharray="7.4 7.6"/>
</g>
<rect x="1632.3" y="1235.6" width="217.6" height="83.4" fill="#fff"/>
<path d="M773.5 670L832.9 744.6M895.8 828.6L949.8 896.4" stroke="#350F70" stroke-width="2.4" fill="none"/>
<text transform="translate(223.30 80.40) scale(1 1.035)" font-size="70.00" fill="#231F20" text-anchor="end" font-weight="normal">10</text>
<text transform="translate(241.10 45.00) scale(1 1.035)" font-size="34.00" fill="#231F20" text-anchor="end" font-weight="normal">0</text>
<text transform="translate(208.40 430.70) scale(1 1.035)" font-size="70.00" fill="#231F20" text-anchor="end" font-weight="normal">10</text>
<text transform="translate(241.10 395.30) scale(1 1.035)" font-size="34.00" fill="#231F20" text-anchor="end" font-weight="normal">-2</text>
<text transform="translate(211.90 776.20) scale(1 1.035)" font-size="70.00" fill="#231F20" text-anchor="end" font-weight="normal">10</text>
<text transform="translate(243.80 742.60) scale(1 1.035)" font-size="34.00" fill="#231F20" text-anchor="end" font-weight="normal">-4</text>
<text transform="translate(208.20 1126.20) scale(1 1.035)" font-size="70.00" fill="#231F20" text-anchor="end" font-weight="normal">10</text>
<text transform="translate(241.30 1091.60) scale(1 1.035)" font-size="34.00" fill="#231F20" text-anchor="end" font-weight="normal">-6</text>
<text transform="translate(211.90 1473.80) scale(1 1.035)" font-size="70.00" fill="#231F20" text-anchor="end" font-weight="normal">10</text>
<text transform="translate(244.30 1438.40) scale(1 1.035)" font-size="34.00" fill="#231F20" text-anchor="end" font-weight="normal">-8</text>
<text transform="translate(187.10 1803.60) scale(1 1.035)" font-size="70.00" fill="#231F20" text-anchor="end" font-weight="normal">10</text>
<text transform="translate(237.30 1769.50) scale(1 1.035)" font-size="34.00" fill="#231F20" text-anchor="end" font-weight="normal">-10</text>
<text transform="translate(260.80 1873.10) scale(1 1.025)" font-size="70.00" fill="#231F20" text-anchor="middle" font-weight="normal">50</text>
<text transform="translate(634.20 1869.70) scale(1 1.025)" font-size="70.00" fill="#231F20" text-anchor="middle" font-weight="normal">100</text>
<text transform="translate(1027.10 1865.80) scale(1 1.025)" font-size="70.00" fill="#231F20" text-anchor="middle" font-weight="normal">150</text>
<text transform="translate(1409.80 1873.80) scale(1 1.025)" font-size="70.00" fill="#231F20" text-anchor="middle" font-weight="normal">200</text>
<text transform="translate(1800.00 1876.10) scale(1 1.025)" font-size="70.00" fill="#231F20" text-anchor="middle" font-weight="normal">250</text>
<text transform="translate(2179.20 1873.80) scale(1 1.025)" font-size="70.00" fill="#231F20" text-anchor="middle" font-weight="normal">300</text>
<text transform="translate(1215.00 1970.30) scale(1 1.000)" font-size="70.00" fill="#231F20" text-anchor="middle" font-weight="normal">Temperature (K)</text>
<text transform="translate(94.00 910.00) rotate(-90) scale(1 1.000)" font-size="69.00" fill="#231F20" text-anchor="middle">Current density (A/cm<tspan font-size="34.00" dx="-3" dy="-33.50">2</tspan><tspan dx="3" dy="33.50">)</tspan></text>
<text transform="translate(561.50 168.80) scale(1 1.000)" font-size="69.00" fill="#231F20" text-anchor="start" font-weight="normal">Rule 07</text>
<text transform="translate(562.00 240.30) scale(1 1.000)" font-size="69.00" fill="#231F20" text-anchor="start" font-weight="normal">Law 19</text>
<text transform="translate(780.90 810.10) scale(1 1.015)" font-size="70.00" fill="#350F70" text-anchor="start" font-weight="bold">LWIR</text>
<text transform="translate(1219.50 1037.00) scale(1 1.015)" font-size="70.00" fill="#E93C00" text-anchor="start" font-weight="bold">MWIR</text>
<text transform="translate(1653.50 1302.00) scale(1 1.014)" font-size="69.30" fill="#00904A" text-anchor="start" font-weight="bold">SWIR</text>
</svg></body></html>
